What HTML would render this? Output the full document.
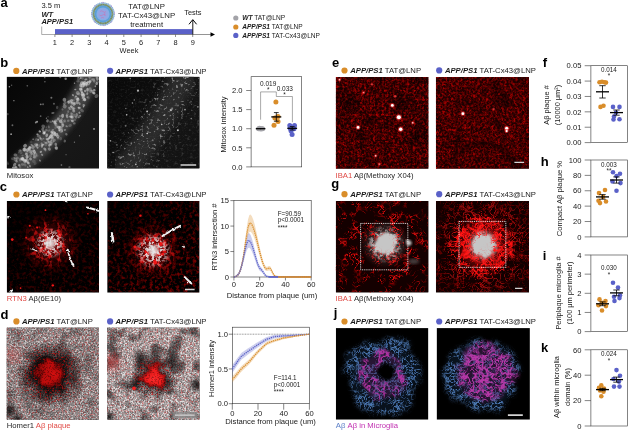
<!DOCTYPE html>
<html><head><meta charset="utf-8"><title>Figure</title>
<style>html,body{margin:0;padding:0;background:#fff;}body{width:628px;height:430px;overflow:hidden;font-family:"Liberation Sans",sans-serif;}</style>
</head><body>
<svg width="628" height="430" viewBox="0 0 628 430" font-family="'Liberation Sans',sans-serif" style="display:block">
<defs>
<filter id="blur05"><feGaussianBlur stdDeviation="0.5"/></filter>
<filter id="blur07"><feGaussianBlur stdDeviation="0.75"/></filter>
<filter id="blur1"><feGaussianBlur stdDeviation="1"/></filter>
<filter id="blur2"><feGaussianBlur stdDeviation="2"/></filter>
<filter id="blur3"><feGaussianBlur stdDeviation="3"/></filter>
<filter id="blur5"><feGaussianBlur stdDeviation="5"/></filter>
</defs>

<text x="0.5" y="7.2" font-size="13" text-anchor="start" fill="#000" font-weight="bold">a</text>
<text x="41.4" y="7.6" font-size="7.5" text-anchor="start" fill="#1a1a1a" >3.5 m</text>
<text x="41.4" y="17.1" font-size="7.5" text-anchor="start" fill="#1a1a1a" ><tspan font-weight="bold" font-style="italic">WT</tspan></text>
<text x="41.4" y="24.4" font-size="7.5" text-anchor="start" fill="#1a1a1a" ><tspan font-weight="bold" font-style="italic">APP/PS1</tspan></text>
<path d="M41.7 26.5V34.5H55" fill="none" stroke="#777" stroke-width="0.6"/>
<rect x="55" y="29.1" width="137.6" height="5.3" fill="#5A61C8"/>
<path d="M55 34.5H212" fill="none" stroke="#666" stroke-width="0.7"/>
<path d="M210.5 32.3L215 34.5L210.5 36.7Z" fill="#000"/>
<path d="M54.9 34.5V37" stroke="#444" stroke-width="0.6"/>
<text x="54.9" y="45.2" font-size="7.4" text-anchor="middle" fill="#1a1a1a" >1</text>
<path d="M72.1 34.5V37" stroke="#444" stroke-width="0.6"/>
<text x="72.1" y="45.2" font-size="7.4" text-anchor="middle" fill="#1a1a1a" >2</text>
<path d="M89.4 34.5V37" stroke="#444" stroke-width="0.6"/>
<text x="89.4" y="45.2" font-size="7.4" text-anchor="middle" fill="#1a1a1a" >3</text>
<path d="M106.6 34.5V37" stroke="#444" stroke-width="0.6"/>
<text x="106.6" y="45.2" font-size="7.4" text-anchor="middle" fill="#1a1a1a" >4</text>
<path d="M123.8 34.5V37" stroke="#444" stroke-width="0.6"/>
<text x="123.8" y="45.2" font-size="7.4" text-anchor="middle" fill="#1a1a1a" >5</text>
<path d="M141.1 34.5V37" stroke="#444" stroke-width="0.6"/>
<text x="141.1" y="45.2" font-size="7.4" text-anchor="middle" fill="#1a1a1a" >6</text>
<path d="M158.3 34.5V37" stroke="#444" stroke-width="0.6"/>
<text x="158.3" y="45.2" font-size="7.4" text-anchor="middle" fill="#1a1a1a" >7</text>
<path d="M175.5 34.5V37" stroke="#444" stroke-width="0.6"/>
<text x="175.5" y="45.2" font-size="7.4" text-anchor="middle" fill="#1a1a1a" >8</text>
<path d="M192.7 34.5V37" stroke="#444" stroke-width="0.6"/>
<text x="192.7" y="45.2" font-size="7.4" text-anchor="middle" fill="#1a1a1a" >9</text>
<text x="129" y="53.3" font-size="7.4" text-anchor="middle" fill="#1a1a1a" >Week</text>
<text x="146.6" y="8.8" font-size="7.8" text-anchor="middle" fill="#1a1a1a" >TAT@LNP</text>
<text x="146.6" y="17.8" font-size="7.8" text-anchor="middle" fill="#1a1a1a" >TAT-Cx43@LNP</text>
<text x="146.6" y="26.8" font-size="7.8" text-anchor="middle" fill="#1a1a1a" >treatment</text>
<text x="192.9" y="14.5" font-size="7.4" text-anchor="middle" fill="#1a1a1a" >Tests</text>
<path d="M192.8 34.5V20" stroke="#000" stroke-width="0.9" fill="none"/><path d="M189 24.3L192.8 19.6L196.6 24.3" stroke="#000" stroke-width="1" fill="none"/>
<g>
<circle cx="103" cy="14" r="11.6" fill="#a8c6e0" filter="url(#blur05)"/>
<circle cx="103" cy="14" r="11.2" fill="none" stroke="#7fa8d0" stroke-width="1.4" stroke-dasharray="0.9 0.9" opacity="0.9"/>
<circle cx="103" cy="14" r="9.4" fill="none" stroke="#6c8a72" stroke-width="1.7"/>
<circle cx="103" cy="14" r="9.4" fill="none" stroke="#9aa86a" stroke-width="1.7" stroke-dasharray="0.7 1.1"/>
<circle cx="103" cy="14" r="8.5" fill="#5b9fd6"/>
<circle cx="103" cy="14" r="6.6" fill="#86aee6"/>
<circle cx="103" cy="14" r="5.2" fill="#93a6e4"/>
<path d="M100 11.5q1.5 -1.5 3 0t3 0M99.5 15q1.5 1.5 3 0t3.2 0.5M101 18q1.5 -1 3 0M104.5 12.5q1 1.5 0 3" fill="none" stroke="#d36aa8" stroke-width="0.55" opacity="0.85"/>
<g fill="#b48ad8"><circle cx="91.6" cy="14" r="0.6"/><circle cx="114.4" cy="13" r="0.6"/><circle cx="103" cy="2.4" r="0.6"/><circle cx="104" cy="25.6" r="0.6"/><circle cx="95" cy="5.8" r="0.6"/><circle cx="111.3" cy="22" r="0.6"/><circle cx="94.6" cy="21.8" r="0.6"/><circle cx="111.5" cy="6" r="0.6"/></g>
</g>
<circle cx="235.8" cy="18" r="2.6" fill="#A3A3A8"/>
<text x="242.2" y="20.3" font-size="6.6" text-anchor="start" fill="#1a1a1a" ><tspan font-weight="bold" font-style="italic">WT</tspan> TAT@LNP</text>
<circle cx="235.8" cy="27" r="2.6" fill="#D98D2A"/>
<text x="242.2" y="29.3" font-size="6.6" text-anchor="start" fill="#1a1a1a" ><tspan font-weight="bold" font-style="italic">APP/PS1</tspan> TAT@LNP</text>
<circle cx="235.8" cy="35.4" r="2.6" fill="#5A61C8"/>
<text x="242.2" y="37.699999999999996" font-size="6.6" text-anchor="start" fill="#1a1a1a" ><tspan font-weight="bold" font-style="italic">APP/PS1</tspan> TAT-Cx43@LNP</text>
<text x="0.15" y="66.7" font-size="13" text-anchor="start" fill="#000" font-weight="bold">b</text>
<circle cx="16.3" cy="70.9" r="3.1" fill="#D98D2A"/>
<text x="21.9" y="73.7" font-size="7.72" text-anchor="start" fill="#1a1a1a" ><tspan font-weight="bold" font-style="italic">APP/PS1</tspan> TAT@LNP</text>
<circle cx="110.1" cy="70.8" r="3.1" fill="#5A61C8"/>
<text x="115.4" y="73.6" font-size="7.72" text-anchor="start" fill="#1a1a1a" ><tspan font-weight="bold" font-style="italic">APP/PS1</tspan> TAT-Cx43@LNP</text>
<svg x="6.7" y="76.7" width="92.3" height="91.9" viewBox="0 0 100 100" preserveAspectRatio="none" overflow="hidden"><rect width="100" height="100" fill="#000"/><defs><linearGradient id="b1g" gradientUnits="userSpaceOnUse" x1="0" y1="0" x2="110.6" y2="85.8"><stop offset="0" stop-color="#060606" stop-opacity="1"/><stop offset="0.4" stop-color="#0c0c0c" stop-opacity="1"/><stop offset="0.6" stop-color="#181818" stop-opacity="1"/><stop offset="1" stop-color="#151515" stop-opacity="1"/></linearGradient></defs><rect width="100" height="100" fill="url(#b1g)"/><path d="M92 -5.1Q72 50 12 98" stroke="#444" stroke-width="21" fill="none" filter="url(#blur3)"/><g filter="url(#blur07)"><ellipse cx="54.7" cy="33.4" rx="1.7" ry="1.3" fill="#d8d8d8" opacity="0.24" transform="rotate(106 54.7 33.4)"/><ellipse cx="56.1" cy="45.8" rx="1.9" ry="1.7" fill="#d8d8d8" opacity="0.30" transform="rotate(17 56.1 45.8)"/><ellipse cx="96.6" cy="-2.7" rx="1.2" ry="1.1" fill="#d8d8d8" opacity="0.47" transform="rotate(174 96.6 -2.7)"/><ellipse cx="42.9" cy="55.2" rx="1.3" ry="0.8" fill="#d8d8d8" opacity="0.18" transform="rotate(95 42.9 55.2)"/><ellipse cx="86.9" cy="8.6" rx="1.7" ry="1.3" fill="#d8d8d8" opacity="0.40" transform="rotate(152 86.9 8.6)"/><ellipse cx="49.4" cy="64.9" rx="1.7" ry="1.5" fill="#d8d8d8" opacity="0.29" transform="rotate(82 49.4 64.9)"/><ellipse cx="40.8" cy="71.1" rx="1.5" ry="1.0" fill="#d8d8d8" opacity="0.18" transform="rotate(52 40.8 71.1)"/><ellipse cx="26.4" cy="71.0" rx="1.6" ry="1.5" fill="#d8d8d8" opacity="0.15" transform="rotate(153 26.4 71.0)"/><ellipse cx="91.5" cy="15.9" rx="2.2" ry="1.7" fill="#d8d8d8" opacity="0.34" transform="rotate(176 91.5 15.9)"/><ellipse cx="74.3" cy="13.9" rx="1.2" ry="0.9" fill="#d8d8d8" opacity="0.52" transform="rotate(174 74.3 13.9)"/><ellipse cx="91.9" cy="-1.2" rx="1.2" ry="1.1" fill="#d8d8d8" opacity="0.42" transform="rotate(32 91.9 -1.2)"/><ellipse cx="68.8" cy="43.4" rx="1.3" ry="1.2" fill="#d8d8d8" opacity="0.47" transform="rotate(24 68.8 43.4)"/><ellipse cx="82.8" cy="20.5" rx="2.3" ry="2.1" fill="#d8d8d8" opacity="0.58" transform="rotate(55 82.8 20.5)"/><ellipse cx="77.2" cy="5.0" rx="1.9" ry="1.2" fill="#d8d8d8" opacity="0.25" transform="rotate(178 77.2 5.0)"/><ellipse cx="88.3" cy="22.7" rx="2.0" ry="1.5" fill="#d8d8d8" opacity="0.19" transform="rotate(53 88.3 22.7)"/><ellipse cx="50.0" cy="58.0" rx="1.5" ry="1.2" fill="#d8d8d8" opacity="0.39" transform="rotate(173 50.0 58.0)"/><ellipse cx="56.8" cy="58.3" rx="1.3" ry="1.2" fill="#d8d8d8" opacity="0.27" transform="rotate(147 56.8 58.3)"/><ellipse cx="84.4" cy="6.6" rx="2.0" ry="1.9" fill="#d8d8d8" opacity="0.62" transform="rotate(35 84.4 6.6)"/><ellipse cx="17.1" cy="85.8" rx="1.2" ry="0.8" fill="#d8d8d8" opacity="0.27" transform="rotate(173 17.1 85.8)"/><ellipse cx="38.0" cy="68.3" rx="1.4" ry="1.3" fill="#d8d8d8" opacity="0.29" transform="rotate(107 38.0 68.3)"/><ellipse cx="87.5" cy="6.3" rx="1.4" ry="1.1" fill="#d8d8d8" opacity="0.45" transform="rotate(153 87.5 6.3)"/><ellipse cx="78.2" cy="19.0" rx="2.2" ry="1.5" fill="#d8d8d8" opacity="0.28" transform="rotate(3 78.2 19.0)"/><ellipse cx="69.6" cy="43.7" rx="1.5" ry="1.3" fill="#d8d8d8" opacity="0.33" transform="rotate(24 69.6 43.7)"/><ellipse cx="21.8" cy="91.1" rx="2.3" ry="2.0" fill="#d8d8d8" opacity="0.44" transform="rotate(124 21.8 91.1)"/><ellipse cx="91.3" cy="2.6" rx="2.2" ry="1.9" fill="#d8d8d8" opacity="0.16" transform="rotate(173 91.3 2.6)"/><ellipse cx="48.7" cy="63.6" rx="1.7" ry="1.5" fill="#d8d8d8" opacity="0.64" transform="rotate(57 48.7 63.6)"/><ellipse cx="16.9" cy="89.1" rx="2.0" ry="1.7" fill="#d8d8d8" opacity="0.60" transform="rotate(143 16.9 89.1)"/><ellipse cx="70.0" cy="26.2" rx="2.1" ry="1.6" fill="#d8d8d8" opacity="0.57" transform="rotate(142 70.0 26.2)"/><ellipse cx="44.2" cy="48.1" rx="1.8" ry="1.4" fill="#d8d8d8" opacity="0.45" transform="rotate(105 44.2 48.1)"/><ellipse cx="32.2" cy="68.3" rx="1.8" ry="1.4" fill="#d8d8d8" opacity="0.19" transform="rotate(151 32.2 68.3)"/><ellipse cx="42.1" cy="80.2" rx="1.1" ry="1.0" fill="#d8d8d8" opacity="0.26" transform="rotate(87 42.1 80.2)"/><ellipse cx="34.7" cy="64.6" rx="2.2" ry="1.5" fill="#d8d8d8" opacity="0.30" transform="rotate(2 34.7 64.6)"/><ellipse cx="44.3" cy="68.2" rx="1.3" ry="0.9" fill="#d8d8d8" opacity="0.47" transform="rotate(163 44.3 68.2)"/><ellipse cx="70.5" cy="43.7" rx="1.9" ry="1.3" fill="#d8d8d8" opacity="0.54" transform="rotate(78 70.5 43.7)"/><ellipse cx="14.8" cy="90.1" rx="2.2" ry="1.6" fill="#d8d8d8" opacity="0.31" transform="rotate(105 14.8 90.1)"/><ellipse cx="25.7" cy="86.1" rx="2.0" ry="1.9" fill="#d8d8d8" opacity="0.23" transform="rotate(50 25.7 86.1)"/><ellipse cx="65.5" cy="41.5" rx="1.6" ry="1.4" fill="#d8d8d8" opacity="0.30" transform="rotate(89 65.5 41.5)"/><ellipse cx="30.2" cy="87.8" rx="2.3" ry="1.8" fill="#d8d8d8" opacity="0.17" transform="rotate(13 30.2 87.8)"/><ellipse cx="30.8" cy="94.6" rx="1.8" ry="1.3" fill="#d8d8d8" opacity="0.16" transform="rotate(142 30.8 94.6)"/><ellipse cx="92.8" cy="2.9" rx="1.6" ry="1.0" fill="#d8d8d8" opacity="0.27" transform="rotate(149 92.8 2.9)"/><ellipse cx="97.5" cy="7.5" rx="1.6" ry="1.4" fill="#d8d8d8" opacity="0.55" transform="rotate(118 97.5 7.5)"/><ellipse cx="14.6" cy="98.3" rx="1.9" ry="1.3" fill="#d8d8d8" opacity="0.24" transform="rotate(86 14.6 98.3)"/><ellipse cx="89.1" cy="8.2" rx="1.4" ry="1.1" fill="#d8d8d8" opacity="0.41" transform="rotate(126 89.1 8.2)"/><ellipse cx="50.9" cy="61.2" rx="2.1" ry="2.0" fill="#d8d8d8" opacity="0.61" transform="rotate(16 50.9 61.2)"/><ellipse cx="34.2" cy="68.7" rx="1.3" ry="1.0" fill="#d8d8d8" opacity="0.60" transform="rotate(113 34.2 68.7)"/><ellipse cx="62.5" cy="25.1" rx="2.1" ry="2.0" fill="#d8d8d8" opacity="0.47" transform="rotate(83 62.5 25.1)"/><ellipse cx="81.2" cy="7.0" rx="2.0" ry="1.8" fill="#d8d8d8" opacity="0.50" transform="rotate(115 81.2 7.0)"/><ellipse cx="97.3" cy="21.1" rx="2.3" ry="1.9" fill="#d8d8d8" opacity="0.31" transform="rotate(142 97.3 21.1)"/><ellipse cx="9.5" cy="85.2" rx="2.1" ry="1.6" fill="#d8d8d8" opacity="0.37" transform="rotate(15 9.5 85.2)"/><ellipse cx="57.6" cy="54.3" rx="1.1" ry="1.0" fill="#d8d8d8" opacity="0.54" transform="rotate(12 57.6 54.3)"/><ellipse cx="82.0" cy="1.5" rx="1.5" ry="1.4" fill="#d8d8d8" opacity="0.22" transform="rotate(25 82.0 1.5)"/><ellipse cx="58.4" cy="48.5" rx="1.9" ry="1.9" fill="#d8d8d8" opacity="0.62" transform="rotate(89 58.4 48.5)"/><ellipse cx="80.3" cy="9.4" rx="2.0" ry="1.7" fill="#d8d8d8" opacity="0.56" transform="rotate(94 80.3 9.4)"/><ellipse cx="55.2" cy="54.3" rx="1.5" ry="1.1" fill="#d8d8d8" opacity="0.59" transform="rotate(152 55.2 54.3)"/><ellipse cx="93.9" cy="17.5" rx="1.7" ry="1.4" fill="#d8d8d8" opacity="0.41" transform="rotate(36 93.9 17.5)"/><ellipse cx="50.0" cy="39.4" rx="1.8" ry="1.1" fill="#d8d8d8" opacity="0.40" transform="rotate(174 50.0 39.4)"/><ellipse cx="72.6" cy="37.5" rx="1.7" ry="1.5" fill="#d8d8d8" opacity="0.41" transform="rotate(12 72.6 37.5)"/><ellipse cx="62.8" cy="32.4" rx="2.2" ry="2.2" fill="#d8d8d8" opacity="0.38" transform="rotate(48 62.8 32.4)"/><ellipse cx="23.4" cy="94.2" rx="1.7" ry="1.2" fill="#d8d8d8" opacity="0.45" transform="rotate(34 23.4 94.2)"/><ellipse cx="22.8" cy="98.4" rx="1.1" ry="0.8" fill="#d8d8d8" opacity="0.49" transform="rotate(41 22.8 98.4)"/><ellipse cx="83.6" cy="31.1" rx="1.5" ry="1.3" fill="#d8d8d8" opacity="0.51" transform="rotate(19 83.6 31.1)"/><ellipse cx="86.1" cy="9.4" rx="1.7" ry="1.3" fill="#d8d8d8" opacity="0.35" transform="rotate(68 86.1 9.4)"/><ellipse cx="60.8" cy="52.8" rx="1.9" ry="1.6" fill="#d8d8d8" opacity="0.57" transform="rotate(95 60.8 52.8)"/><ellipse cx="54.0" cy="63.1" rx="2.1" ry="1.5" fill="#d8d8d8" opacity="0.55" transform="rotate(133 54.0 63.1)"/><ellipse cx="17.3" cy="89.8" rx="2.2" ry="1.5" fill="#d8d8d8" opacity="0.58" transform="rotate(180 17.3 89.8)"/><ellipse cx="95.0" cy="4.2" rx="1.4" ry="1.2" fill="#d8d8d8" opacity="0.20" transform="rotate(47 95.0 4.2)"/><ellipse cx="19.1" cy="77.9" rx="1.3" ry="1.0" fill="#d8d8d8" opacity="0.16" transform="rotate(123 19.1 77.9)"/><ellipse cx="90.6" cy="13.5" rx="1.9" ry="1.9" fill="#d8d8d8" opacity="0.21" transform="rotate(174 90.6 13.5)"/><ellipse cx="61.4" cy="48.7" rx="1.9" ry="1.3" fill="#d8d8d8" opacity="0.20" transform="rotate(13 61.4 48.7)"/><ellipse cx="49.9" cy="48.5" rx="1.3" ry="0.9" fill="#d8d8d8" opacity="0.56" transform="rotate(37 49.9 48.5)"/><ellipse cx="7.8" cy="99.1" rx="2.2" ry="1.4" fill="#d8d8d8" opacity="0.62" transform="rotate(11 7.8 99.1)"/><ellipse cx="65.5" cy="43.6" rx="1.7" ry="1.3" fill="#d8d8d8" opacity="0.44" transform="rotate(77 65.5 43.6)"/><ellipse cx="43.7" cy="72.0" rx="1.6" ry="1.5" fill="#d8d8d8" opacity="0.25" transform="rotate(73 43.7 72.0)"/><ellipse cx="85.8" cy="3.0" rx="1.7" ry="1.0" fill="#d8d8d8" opacity="0.54" transform="rotate(161 85.8 3.0)"/><ellipse cx="46.2" cy="74.7" rx="1.6" ry="1.3" fill="#d8d8d8" opacity="0.63" transform="rotate(91 46.2 74.7)"/><ellipse cx="24.7" cy="77.0" rx="1.4" ry="1.4" fill="#d8d8d8" opacity="0.53" transform="rotate(134 24.7 77.0)"/><ellipse cx="19.9" cy="75.2" rx="2.2" ry="1.9" fill="#d8d8d8" opacity="0.52" transform="rotate(138 19.9 75.2)"/><ellipse cx="76.3" cy="41.3" rx="2.0" ry="1.2" fill="#d8d8d8" opacity="0.38" transform="rotate(62 76.3 41.3)"/><ellipse cx="55.7" cy="66.8" rx="1.4" ry="1.3" fill="#d8d8d8" opacity="0.32" transform="rotate(120 55.7 66.8)"/><ellipse cx="40.1" cy="61.5" rx="1.6" ry="1.6" fill="#d8d8d8" opacity="0.49" transform="rotate(116 40.1 61.5)"/><ellipse cx="32.5" cy="74.9" rx="2.3" ry="1.4" fill="#d8d8d8" opacity="0.51" transform="rotate(111 32.5 74.9)"/><ellipse cx="80.6" cy="16.3" rx="1.3" ry="1.0" fill="#d8d8d8" opacity="0.27" transform="rotate(18 80.6 16.3)"/><ellipse cx="19.8" cy="92.4" rx="1.8" ry="1.4" fill="#d8d8d8" opacity="0.43" transform="rotate(174 19.8 92.4)"/><ellipse cx="1.6" cy="95.2" rx="1.2" ry="1.0" fill="#d8d8d8" opacity="0.17" transform="rotate(137 1.6 95.2)"/><ellipse cx="8.4" cy="88.2" rx="1.3" ry="1.0" fill="#d8d8d8" opacity="0.39" transform="rotate(30 8.4 88.2)"/><ellipse cx="63.0" cy="70.0" rx="1.6" ry="1.3" fill="#d8d8d8" opacity="0.33" transform="rotate(108 63.0 70.0)"/><ellipse cx="84.4" cy="24.8" rx="1.9" ry="1.6" fill="#d8d8d8" opacity="0.50" transform="rotate(51 84.4 24.8)"/><ellipse cx="83.0" cy="25.6" rx="1.2" ry="0.8" fill="#d8d8d8" opacity="0.34" transform="rotate(136 83.0 25.6)"/><ellipse cx="20.1" cy="91.1" rx="2.0" ry="1.2" fill="#d8d8d8" opacity="0.61" transform="rotate(178 20.1 91.1)"/><ellipse cx="60.5" cy="42.7" rx="2.3" ry="1.6" fill="#d8d8d8" opacity="0.61" transform="rotate(94 60.5 42.7)"/><ellipse cx="32.0" cy="85.0" rx="1.8" ry="1.2" fill="#d8d8d8" opacity="0.37" transform="rotate(112 32.0 85.0)"/><ellipse cx="92.1" cy="15.2" rx="1.2" ry="1.0" fill="#d8d8d8" opacity="0.37" transform="rotate(120 92.1 15.2)"/><ellipse cx="83.7" cy="19.8" rx="1.8" ry="1.4" fill="#d8d8d8" opacity="0.41" transform="rotate(140 83.7 19.8)"/><ellipse cx="80.8" cy="13.1" rx="1.2" ry="1.2" fill="#d8d8d8" opacity="0.46" transform="rotate(141 80.8 13.1)"/><ellipse cx="72.8" cy="29.8" rx="1.8" ry="1.5" fill="#d8d8d8" opacity="0.52" transform="rotate(114 72.8 29.8)"/><ellipse cx="94.9" cy="14.8" rx="1.4" ry="1.4" fill="#d8d8d8" opacity="0.58" transform="rotate(165 94.9 14.8)"/><ellipse cx="69.9" cy="40.0" rx="1.8" ry="1.2" fill="#d8d8d8" opacity="0.19" transform="rotate(97 69.9 40.0)"/><ellipse cx="43.0" cy="58.2" rx="1.5" ry="1.2" fill="#d8d8d8" opacity="0.32" transform="rotate(38 43.0 58.2)"/><ellipse cx="38.2" cy="76.1" rx="1.2" ry="1.1" fill="#d8d8d8" opacity="0.53" transform="rotate(112 38.2 76.1)"/><ellipse cx="83.4" cy="10.3" rx="1.6" ry="1.1" fill="#d8d8d8" opacity="0.33" transform="rotate(146 83.4 10.3)"/><ellipse cx="51.4" cy="69.1" rx="1.8" ry="1.6" fill="#d8d8d8" opacity="0.36" transform="rotate(166 51.4 69.1)"/><ellipse cx="72.7" cy="31.6" rx="1.2" ry="1.2" fill="#d8d8d8" opacity="0.19" transform="rotate(14 72.7 31.6)"/><ellipse cx="47.5" cy="49.1" rx="1.5" ry="1.3" fill="#d8d8d8" opacity="0.25" transform="rotate(14 47.5 49.1)"/><ellipse cx="46.6" cy="66.9" rx="1.2" ry="0.9" fill="#d8d8d8" opacity="0.49" transform="rotate(130 46.6 66.9)"/><ellipse cx="83.1" cy="23.3" rx="2.0" ry="1.5" fill="#d8d8d8" opacity="0.50" transform="rotate(21 83.1 23.3)"/><ellipse cx="59.0" cy="58.9" rx="2.2" ry="2.1" fill="#d8d8d8" opacity="0.36" transform="rotate(164 59.0 58.9)"/><ellipse cx="29.1" cy="80.1" rx="1.6" ry="1.5" fill="#d8d8d8" opacity="0.27" transform="rotate(161 29.1 80.1)"/><ellipse cx="78.1" cy="34.3" rx="1.5" ry="1.1" fill="#d8d8d8" opacity="0.34" transform="rotate(71 78.1 34.3)"/><ellipse cx="77.8" cy="2.4" rx="1.7" ry="1.6" fill="#d8d8d8" opacity="0.24" transform="rotate(101 77.8 2.4)"/><ellipse cx="31.8" cy="73.9" rx="2.2" ry="1.5" fill="#d8d8d8" opacity="0.40" transform="rotate(4 31.8 73.9)"/><ellipse cx="41.2" cy="60.7" rx="2.1" ry="1.3" fill="#d8d8d8" opacity="0.54" transform="rotate(98 41.2 60.7)"/><ellipse cx="101.6" cy="-0.1" rx="2.2" ry="1.4" fill="#d8d8d8" opacity="0.22" transform="rotate(114 101.6 -0.1)"/><ellipse cx="41.3" cy="78.7" rx="1.9" ry="1.3" fill="#d8d8d8" opacity="0.53" transform="rotate(40 41.3 78.7)"/><ellipse cx="60.1" cy="50.7" rx="1.5" ry="1.5" fill="#d8d8d8" opacity="0.39" transform="rotate(121 60.1 50.7)"/><ellipse cx="52.8" cy="48.1" rx="2.0" ry="1.7" fill="#d8d8d8" opacity="0.35" transform="rotate(165 52.8 48.1)"/><ellipse cx="22.8" cy="79.6" rx="2.1" ry="1.9" fill="#d8d8d8" opacity="0.62" transform="rotate(160 22.8 79.6)"/><ellipse cx="39.0" cy="56.9" rx="1.7" ry="1.5" fill="#d8d8d8" opacity="0.36" transform="rotate(144 39.0 56.9)"/><ellipse cx="74.0" cy="42.4" rx="2.3" ry="1.7" fill="#d8d8d8" opacity="0.25" transform="rotate(30 74.0 42.4)"/><ellipse cx="75.3" cy="44.2" rx="1.5" ry="1.4" fill="#d8d8d8" opacity="0.30" transform="rotate(11 75.3 44.2)"/><ellipse cx="80.2" cy="1.4" rx="1.2" ry="0.9" fill="#d8d8d8" opacity="0.60" transform="rotate(105 80.2 1.4)"/><ellipse cx="87.1" cy="13.9" rx="1.4" ry="1.2" fill="#d8d8d8" opacity="0.26" transform="rotate(107 87.1 13.9)"/><ellipse cx="86.6" cy="7.4" rx="2.0" ry="1.5" fill="#d8d8d8" opacity="0.55" transform="rotate(99 86.6 7.4)"/><ellipse cx="66.7" cy="47.9" rx="1.4" ry="1.3" fill="#d8d8d8" opacity="0.32" transform="rotate(165 66.7 47.9)"/><ellipse cx="63.1" cy="57.9" rx="1.4" ry="0.8" fill="#d8d8d8" opacity="0.54" transform="rotate(171 63.1 57.9)"/><ellipse cx="70.1" cy="32.6" rx="1.7" ry="1.4" fill="#d8d8d8" opacity="0.64" transform="rotate(49 70.1 32.6)"/><ellipse cx="46.4" cy="65.9" rx="1.7" ry="1.2" fill="#d8d8d8" opacity="0.50" transform="rotate(143 46.4 65.9)"/><ellipse cx="52.3" cy="60.7" rx="1.3" ry="0.9" fill="#d8d8d8" opacity="0.28" transform="rotate(58 52.3 60.7)"/><ellipse cx="15.5" cy="82.1" rx="2.3" ry="1.6" fill="#d8d8d8" opacity="0.22" transform="rotate(96 15.5 82.1)"/><ellipse cx="33.5" cy="77.3" rx="1.1" ry="1.0" fill="#d8d8d8" opacity="0.55" transform="rotate(152 33.5 77.3)"/><ellipse cx="101.6" cy="2.4" rx="1.7" ry="1.3" fill="#d8d8d8" opacity="0.44" transform="rotate(172 101.6 2.4)"/><ellipse cx="21.4" cy="84.4" rx="1.6" ry="1.5" fill="#d8d8d8" opacity="0.55" transform="rotate(16 21.4 84.4)"/><ellipse cx="94.5" cy="17.9" rx="1.8" ry="1.4" fill="#d8d8d8" opacity="0.56" transform="rotate(28 94.5 17.9)"/><ellipse cx="77.0" cy="23.9" rx="1.5" ry="1.2" fill="#d8d8d8" opacity="0.33" transform="rotate(129 77.0 23.9)"/><ellipse cx="45.2" cy="70.6" rx="1.2" ry="0.9" fill="#d8d8d8" opacity="0.62" transform="rotate(83 45.2 70.6)"/><ellipse cx="27.2" cy="83.7" rx="1.6" ry="1.4" fill="#d8d8d8" opacity="0.43" transform="rotate(43 27.2 83.7)"/><ellipse cx="64.7" cy="42.3" rx="1.1" ry="1.1" fill="#d8d8d8" opacity="0.25" transform="rotate(144 64.7 42.3)"/><ellipse cx="49.2" cy="60.2" rx="1.7" ry="1.3" fill="#d8d8d8" opacity="0.34" transform="rotate(61 49.2 60.2)"/><ellipse cx="50.4" cy="70.7" rx="1.4" ry="1.0" fill="#d8d8d8" opacity="0.31" transform="rotate(132 50.4 70.7)"/><ellipse cx="6.1" cy="89.3" rx="1.5" ry="1.4" fill="#d8d8d8" opacity="0.22" transform="rotate(17 6.1 89.3)"/><ellipse cx="43.3" cy="67.4" rx="1.6" ry="1.5" fill="#d8d8d8" opacity="0.19" transform="rotate(107 43.3 67.4)"/><ellipse cx="81.0" cy="10.9" rx="1.3" ry="0.8" fill="#d8d8d8" opacity="0.19" transform="rotate(73 81.0 10.9)"/><ellipse cx="11.3" cy="88.6" rx="1.9" ry="1.7" fill="#d8d8d8" opacity="0.34" transform="rotate(148 11.3 88.6)"/><ellipse cx="79.0" cy="29.3" rx="1.6" ry="1.0" fill="#d8d8d8" opacity="0.49" transform="rotate(72 79.0 29.3)"/><ellipse cx="11.4" cy="100.4" rx="1.8" ry="1.1" fill="#d8d8d8" opacity="0.32" transform="rotate(60 11.4 100.4)"/><ellipse cx="39.4" cy="59.2" rx="1.2" ry="0.9" fill="#d8d8d8" opacity="0.54" transform="rotate(92 39.4 59.2)"/><ellipse cx="25.8" cy="81.7" rx="2.0" ry="1.9" fill="#d8d8d8" opacity="0.32" transform="rotate(99 25.8 81.7)"/><ellipse cx="59.6" cy="46.3" rx="1.3" ry="1.1" fill="#d8d8d8" opacity="0.40" transform="rotate(178 59.6 46.3)"/><ellipse cx="42.1" cy="73.5" rx="2.2" ry="1.9" fill="#d8d8d8" opacity="0.19" transform="rotate(36 42.1 73.5)"/><ellipse cx="79.9" cy="13.5" rx="1.8" ry="1.6" fill="#d8d8d8" opacity="0.61" transform="rotate(59 79.9 13.5)"/><ellipse cx="71.1" cy="28.8" rx="2.3" ry="1.5" fill="#d8d8d8" opacity="0.42" transform="rotate(163 71.1 28.8)"/><ellipse cx="56.5" cy="55.4" rx="1.8" ry="1.3" fill="#d8d8d8" opacity="0.64" transform="rotate(164 56.5 55.4)"/><ellipse cx="26.8" cy="81.1" rx="2.1" ry="1.5" fill="#d8d8d8" opacity="0.27" transform="rotate(161 26.8 81.1)"/><ellipse cx="53.0" cy="55.1" rx="2.1" ry="1.4" fill="#d8d8d8" opacity="0.19" transform="rotate(99 53.0 55.1)"/><ellipse cx="43.4" cy="63.7" rx="2.0" ry="1.5" fill="#d8d8d8" opacity="0.54" transform="rotate(107 43.4 63.7)"/><ellipse cx="83.3" cy="7.6" rx="1.6" ry="1.3" fill="#d8d8d8" opacity="0.40" transform="rotate(31 83.3 7.6)"/><ellipse cx="82.1" cy="18.8" rx="1.8" ry="1.3" fill="#d8d8d8" opacity="0.17" transform="rotate(116 82.1 18.8)"/><ellipse cx="53.2" cy="73.7" rx="1.8" ry="1.4" fill="#d8d8d8" opacity="0.46" transform="rotate(74 53.2 73.7)"/><ellipse cx="53.7" cy="77.6" rx="2.0" ry="1.8" fill="#d8d8d8" opacity="0.64" transform="rotate(87 53.7 77.6)"/><ellipse cx="30.0" cy="87.5" rx="1.6" ry="1.3" fill="#d8d8d8" opacity="0.41" transform="rotate(163 30.0 87.5)"/><ellipse cx="55.0" cy="47.4" rx="1.6" ry="1.6" fill="#d8d8d8" opacity="0.18" transform="rotate(58 55.0 47.4)"/><ellipse cx="46.2" cy="78.7" rx="1.8" ry="1.6" fill="#d8d8d8" opacity="0.44" transform="rotate(55 46.2 78.7)"/><ellipse cx="72.8" cy="36.9" rx="1.2" ry="1.0" fill="#d8d8d8" opacity="0.27" transform="rotate(95 72.8 36.9)"/><ellipse cx="75.1" cy="21.5" rx="1.2" ry="1.1" fill="#d8d8d8" opacity="0.48" transform="rotate(174 75.1 21.5)"/><ellipse cx="25.8" cy="89.6" rx="1.6" ry="1.5" fill="#d8d8d8" opacity="0.52" transform="rotate(40 25.8 89.6)"/><ellipse cx="57.3" cy="57.2" rx="2.1" ry="1.3" fill="#d8d8d8" opacity="0.62" transform="rotate(97 57.3 57.2)"/><ellipse cx="81.5" cy="14.6" rx="1.2" ry="1.1" fill="#d8d8d8" opacity="0.34" transform="rotate(147 81.5 14.6)"/><ellipse cx="78.6" cy="33.8" rx="1.8" ry="1.1" fill="#d8d8d8" opacity="0.59" transform="rotate(6 78.6 33.8)"/><ellipse cx="10.2" cy="98.5" rx="1.7" ry="1.1" fill="#d8d8d8" opacity="0.60" transform="rotate(53 10.2 98.5)"/><ellipse cx="23.3" cy="93.4" rx="1.5" ry="1.2" fill="#d8d8d8" opacity="0.58" transform="rotate(31 23.3 93.4)"/><ellipse cx="83.7" cy="8.4" rx="2.2" ry="1.3" fill="#d8d8d8" opacity="0.51" transform="rotate(19 83.7 8.4)"/><ellipse cx="75.1" cy="22.7" rx="2.2" ry="2.1" fill="#d8d8d8" opacity="0.22" transform="rotate(128 75.1 22.7)"/><ellipse cx="47.7" cy="74.2" rx="1.2" ry="0.8" fill="#d8d8d8" opacity="0.50" transform="rotate(55 47.7 74.2)"/><ellipse cx="84.2" cy="7.7" rx="1.3" ry="0.9" fill="#d8d8d8" opacity="0.54" transform="rotate(120 84.2 7.7)"/><ellipse cx="67.0" cy="27.8" rx="1.8" ry="1.3" fill="#d8d8d8" opacity="0.60" transform="rotate(54 67.0 27.8)"/><ellipse cx="35.9" cy="59.6" rx="1.4" ry="1.2" fill="#d8d8d8" opacity="0.63" transform="rotate(16 35.9 59.6)"/><ellipse cx="60.5" cy="35.6" rx="1.2" ry="1.0" fill="#d8d8d8" opacity="0.27" transform="rotate(51 60.5 35.6)"/><ellipse cx="29.5" cy="80.4" rx="1.2" ry="0.9" fill="#d8d8d8" opacity="0.27" transform="rotate(136 29.5 80.4)"/><ellipse cx="77.0" cy="17.8" rx="2.2" ry="2.2" fill="#d8d8d8" opacity="0.38" transform="rotate(6 77.0 17.8)"/><ellipse cx="35.4" cy="75.1" rx="1.6" ry="1.5" fill="#d8d8d8" opacity="0.24" transform="rotate(90 35.4 75.1)"/><ellipse cx="53.3" cy="52.0" rx="1.9" ry="1.7" fill="#d8d8d8" opacity="0.40" transform="rotate(93 53.3 52.0)"/><ellipse cx="21.9" cy="82.5" rx="1.9" ry="1.6" fill="#d8d8d8" opacity="0.24" transform="rotate(171 21.9 82.5)"/><ellipse cx="37.0" cy="81.8" rx="1.4" ry="1.1" fill="#d8d8d8" opacity="0.54" transform="rotate(139 37.0 81.8)"/><ellipse cx="38.3" cy="85.0" rx="1.4" ry="1.1" fill="#d8d8d8" opacity="0.43" transform="rotate(40 38.3 85.0)"/><ellipse cx="68.7" cy="53.1" rx="2.0" ry="1.6" fill="#d8d8d8" opacity="0.24" transform="rotate(157 68.7 53.1)"/><ellipse cx="91.1" cy="4.6" rx="1.1" ry="0.9" fill="#d8d8d8" opacity="0.37" transform="rotate(78 91.1 4.6)"/><ellipse cx="82.1" cy="18.7" rx="2.2" ry="1.8" fill="#d8d8d8" opacity="0.54" transform="rotate(98 82.1 18.7)"/><ellipse cx="81.4" cy="13.4" rx="1.3" ry="0.9" fill="#d8d8d8" opacity="0.30" transform="rotate(8 81.4 13.4)"/><ellipse cx="45.9" cy="58.6" rx="1.8" ry="1.1" fill="#d8d8d8" opacity="0.23" transform="rotate(148 45.9 58.6)"/><ellipse cx="81.5" cy="16.7" rx="1.3" ry="1.1" fill="#d8d8d8" opacity="0.54" transform="rotate(150 81.5 16.7)"/><ellipse cx="87.7" cy="14.2" rx="2.3" ry="1.4" fill="#d8d8d8" opacity="0.52" transform="rotate(88 87.7 14.2)"/><ellipse cx="12.6" cy="102.1" rx="2.0" ry="1.2" fill="#d8d8d8" opacity="0.59" transform="rotate(43 12.6 102.1)"/><ellipse cx="94.9" cy="5.6" rx="1.6" ry="1.1" fill="#d8d8d8" opacity="0.19" transform="rotate(76 94.9 5.6)"/><ellipse cx="38.0" cy="73.9" rx="1.4" ry="1.0" fill="#d8d8d8" opacity="0.27" transform="rotate(99 38.0 73.9)"/><ellipse cx="69.7" cy="46.8" rx="1.5" ry="1.5" fill="#d8d8d8" opacity="0.17" transform="rotate(110 69.7 46.8)"/><ellipse cx="68.1" cy="34.5" rx="1.9" ry="1.2" fill="#d8d8d8" opacity="0.49" transform="rotate(62 68.1 34.5)"/><ellipse cx="14.3" cy="80.3" rx="1.7" ry="1.3" fill="#d8d8d8" opacity="0.34" transform="rotate(152 14.3 80.3)"/><ellipse cx="27.1" cy="74.4" rx="1.4" ry="1.0" fill="#d8d8d8" opacity="0.42" transform="rotate(33 27.1 74.4)"/><ellipse cx="89.8" cy="5.9" rx="1.7" ry="1.2" fill="#d8d8d8" opacity="0.64" transform="rotate(80 89.8 5.9)"/><ellipse cx="47.6" cy="71.0" rx="2.1" ry="1.5" fill="#d8d8d8" opacity="0.19" transform="rotate(69 47.6 71.0)"/><ellipse cx="40.0" cy="67.4" rx="1.1" ry="0.8" fill="#d8d8d8" opacity="0.34" transform="rotate(47 40.0 67.4)"/><ellipse cx="19.9" cy="95.8" rx="2.0" ry="1.4" fill="#d8d8d8" opacity="0.23" transform="rotate(65 19.9 95.8)"/><ellipse cx="9.3" cy="90.1" rx="2.0" ry="1.9" fill="#d8d8d8" opacity="0.31" transform="rotate(4 9.3 90.1)"/><ellipse cx="78.8" cy="39.2" rx="1.2" ry="1.1" fill="#d8d8d8" opacity="0.53" transform="rotate(59 78.8 39.2)"/><ellipse cx="64.9" cy="54.0" rx="1.4" ry="0.9" fill="#d8d8d8" opacity="0.44" transform="rotate(27 64.9 54.0)"/><ellipse cx="71.8" cy="20.0" rx="1.3" ry="1.1" fill="#d8d8d8" opacity="0.51" transform="rotate(47 71.8 20.0)"/><ellipse cx="48.5" cy="69.2" rx="1.3" ry="0.9" fill="#d8d8d8" opacity="0.50" transform="rotate(50 48.5 69.2)"/><ellipse cx="61.9" cy="30.1" rx="1.4" ry="1.0" fill="#d8d8d8" opacity="0.26" transform="rotate(62 61.9 30.1)"/><ellipse cx="25.0" cy="78.0" rx="2.3" ry="1.6" fill="#d8d8d8" opacity="0.60" transform="rotate(121 25.0 78.0)"/><ellipse cx="82.1" cy="9.8" rx="2.2" ry="2.1" fill="#d8d8d8" opacity="0.46" transform="rotate(42 82.1 9.8)"/><ellipse cx="66.6" cy="38.0" rx="1.6" ry="1.1" fill="#d8d8d8" opacity="0.29" transform="rotate(89 66.6 38.0)"/><ellipse cx="90.3" cy="5.2" rx="1.6" ry="1.3" fill="#d8d8d8" opacity="0.48" transform="rotate(30 90.3 5.2)"/><ellipse cx="87.3" cy="18.4" rx="1.6" ry="1.1" fill="#d8d8d8" opacity="0.49" transform="rotate(105 87.3 18.4)"/><ellipse cx="59.3" cy="56.1" rx="1.9" ry="1.2" fill="#d8d8d8" opacity="0.33" transform="rotate(70 59.3 56.1)"/><ellipse cx="63.0" cy="48.1" rx="1.8" ry="1.4" fill="#d8d8d8" opacity="0.27" transform="rotate(59 63.0 48.1)"/><ellipse cx="64.6" cy="62.6" rx="1.4" ry="1.2" fill="#d8d8d8" opacity="0.38" transform="rotate(33 64.6 62.6)"/><ellipse cx="55.4" cy="64.9" rx="1.8" ry="1.8" fill="#d8d8d8" opacity="0.46" transform="rotate(139 55.4 64.9)"/><ellipse cx="48.6" cy="60.6" rx="1.6" ry="1.2" fill="#d8d8d8" opacity="0.56" transform="rotate(50 48.6 60.6)"/><ellipse cx="13.2" cy="82.4" rx="1.1" ry="0.7" fill="#d8d8d8" opacity="0.30" transform="rotate(91 13.2 82.4)"/><ellipse cx="81.7" cy="36.9" rx="2.3" ry="1.5" fill="#d8d8d8" opacity="0.26" transform="rotate(35 81.7 36.9)"/><ellipse cx="44.0" cy="68.3" rx="1.8" ry="1.3" fill="#d8d8d8" opacity="0.39" transform="rotate(43 44.0 68.3)"/><ellipse cx="47.3" cy="65.2" rx="1.8" ry="1.5" fill="#d8d8d8" opacity="0.56" transform="rotate(101 47.3 65.2)"/><ellipse cx="8.6" cy="95.7" rx="2.2" ry="1.6" fill="#d8d8d8" opacity="0.49" transform="rotate(129 8.6 95.7)"/><ellipse cx="47.6" cy="72.3" rx="2.3" ry="2.1" fill="#d8d8d8" opacity="0.45" transform="rotate(29 47.6 72.3)"/><ellipse cx="57.8" cy="43.0" rx="1.4" ry="1.3" fill="#d8d8d8" opacity="0.27" transform="rotate(96 57.8 43.0)"/><ellipse cx="80.6" cy="14.9" rx="1.5" ry="1.0" fill="#d8d8d8" opacity="0.21" transform="rotate(92 80.6 14.9)"/><ellipse cx="42.4" cy="71.8" rx="1.2" ry="1.0" fill="#d8d8d8" opacity="0.39" transform="rotate(139 42.4 71.8)"/><ellipse cx="96.0" cy="10.4" rx="1.2" ry="0.8" fill="#d8d8d8" opacity="0.54" transform="rotate(91 96.0 10.4)"/><ellipse cx="63.1" cy="28.5" rx="2.0" ry="1.4" fill="#d8d8d8" opacity="0.31" transform="rotate(129 63.1 28.5)"/><ellipse cx="76.6" cy="27.9" rx="2.1" ry="1.7" fill="#d8d8d8" opacity="0.50" transform="rotate(76 76.6 27.9)"/><ellipse cx="39.6" cy="54.0" rx="2.1" ry="1.9" fill="#d8d8d8" opacity="0.33" transform="rotate(23 39.6 54.0)"/><ellipse cx="45.5" cy="67.4" rx="1.1" ry="0.9" fill="#d8d8d8" opacity="0.63" transform="rotate(169 45.5 67.4)"/><ellipse cx="94.2" cy="3.5" rx="1.9" ry="1.5" fill="#d8d8d8" opacity="0.34" transform="rotate(114 94.2 3.5)"/><ellipse cx="17.1" cy="95.6" rx="2.0" ry="1.3" fill="#d8d8d8" opacity="0.29" transform="rotate(8 17.1 95.6)"/><ellipse cx="38.4" cy="73.7" rx="2.3" ry="1.5" fill="#d8d8d8" opacity="0.16" transform="rotate(59 38.4 73.7)"/><ellipse cx="52.5" cy="48.8" rx="1.5" ry="1.4" fill="#d8d8d8" opacity="0.29" transform="rotate(151 52.5 48.8)"/><ellipse cx="71.7" cy="35.1" rx="1.8" ry="1.7" fill="#d8d8d8" opacity="0.34" transform="rotate(177 71.7 35.1)"/><ellipse cx="33.3" cy="62.7" rx="1.3" ry="0.9" fill="#d8d8d8" opacity="0.61" transform="rotate(19 33.3 62.7)"/><ellipse cx="79.7" cy="14.6" rx="1.7" ry="1.1" fill="#d8d8d8" opacity="0.16" transform="rotate(58 79.7 14.6)"/><ellipse cx="60.0" cy="59.1" rx="1.4" ry="1.0" fill="#d8d8d8" opacity="0.33" transform="rotate(87 60.0 59.1)"/><ellipse cx="87.6" cy="22.4" rx="1.2" ry="0.7" fill="#d8d8d8" opacity="0.30" transform="rotate(161 87.6 22.4)"/><ellipse cx="90.1" cy="13.4" rx="1.6" ry="1.5" fill="#d8d8d8" opacity="0.18" transform="rotate(71 90.1 13.4)"/><ellipse cx="52.3" cy="50.2" rx="1.9" ry="1.6" fill="#d8d8d8" opacity="0.61" transform="rotate(50 52.3 50.2)"/><ellipse cx="29.4" cy="92.0" rx="2.1" ry="1.9" fill="#d8d8d8" opacity="0.16" transform="rotate(32 29.4 92.0)"/><ellipse cx="88.2" cy="5.5" rx="1.2" ry="0.8" fill="#d8d8d8" opacity="0.52" transform="rotate(65 88.2 5.5)"/><ellipse cx="77.1" cy="23.8" rx="1.4" ry="1.3" fill="#d8d8d8" opacity="0.41" transform="rotate(2 77.1 23.8)"/><ellipse cx="29.8" cy="82.0" rx="2.1" ry="1.8" fill="#d8d8d8" opacity="0.54" transform="rotate(72 29.8 82.0)"/><ellipse cx="29.6" cy="85.2" rx="1.2" ry="1.2" fill="#d8d8d8" opacity="0.50" transform="rotate(72 29.6 85.2)"/><ellipse cx="25.2" cy="97.3" rx="1.4" ry="1.0" fill="#d8d8d8" opacity="0.47" transform="rotate(66 25.2 97.3)"/><ellipse cx="30.8" cy="82.9" rx="1.5" ry="1.3" fill="#d8d8d8" opacity="0.29" transform="rotate(64 30.8 82.9)"/><ellipse cx="17.8" cy="90.7" rx="1.5" ry="1.3" fill="#d8d8d8" opacity="0.51" transform="rotate(38 17.8 90.7)"/><ellipse cx="59.4" cy="54.9" rx="1.9" ry="1.3" fill="#d8d8d8" opacity="0.22" transform="rotate(19 59.4 54.9)"/><ellipse cx="74.0" cy="29.0" rx="1.7" ry="1.3" fill="#d8d8d8" opacity="0.41" transform="rotate(58 74.0 29.0)"/><ellipse cx="13.5" cy="96.3" rx="1.3" ry="1.3" fill="#d8d8d8" opacity="0.52" transform="rotate(58 13.5 96.3)"/><ellipse cx="98.1" cy="1.8" rx="2.3" ry="1.6" fill="#d8d8d8" opacity="0.50" transform="rotate(73 98.1 1.8)"/><ellipse cx="87.3" cy="6.6" rx="1.4" ry="1.2" fill="#d8d8d8" opacity="0.31" transform="rotate(171 87.3 6.6)"/><ellipse cx="77.3" cy="-0.1" rx="1.3" ry="1.1" fill="#d8d8d8" opacity="0.47" transform="rotate(68 77.3 -0.1)"/><ellipse cx="58.5" cy="67.4" rx="1.9" ry="1.5" fill="#d8d8d8" opacity="0.21" transform="rotate(102 58.5 67.4)"/><ellipse cx="19.9" cy="79.5" rx="1.9" ry="1.5" fill="#d8d8d8" opacity="0.36" transform="rotate(120 19.9 79.5)"/><ellipse cx="72.7" cy="34.5" rx="1.8" ry="1.4" fill="#d8d8d8" opacity="0.46" transform="rotate(6 72.7 34.5)"/><ellipse cx="73.6" cy="47.0" rx="1.8" ry="1.5" fill="#d8d8d8" opacity="0.22" transform="rotate(168 73.6 47.0)"/><ellipse cx="73.2" cy="50.8" rx="1.5" ry="1.3" fill="#d8d8d8" opacity="0.35" transform="rotate(178 73.2 50.8)"/><ellipse cx="22.9" cy="87.5" rx="1.3" ry="1.2" fill="#d8d8d8" opacity="0.26" transform="rotate(88 22.9 87.5)"/><ellipse cx="19.0" cy="79.3" rx="2.1" ry="1.9" fill="#d8d8d8" opacity="0.64" transform="rotate(92 19.0 79.3)"/><ellipse cx="22.0" cy="87.3" rx="2.1" ry="1.6" fill="#d8d8d8" opacity="0.57" transform="rotate(97 22.0 87.3)"/><ellipse cx="82.5" cy="6.3" rx="1.4" ry="1.2" fill="#d8d8d8" opacity="0.42" transform="rotate(13 82.5 6.3)"/><ellipse cx="28.5" cy="76.6" rx="2.1" ry="1.9" fill="#d8d8d8" opacity="0.42" transform="rotate(139 28.5 76.6)"/><ellipse cx="19.0" cy="91.8" rx="2.1" ry="1.4" fill="#d8d8d8" opacity="0.20" transform="rotate(66 19.0 91.8)"/><ellipse cx="36.0" cy="91.3" rx="1.2" ry="0.8" fill="#d8d8d8" opacity="0.57" transform="rotate(70 36.0 91.3)"/><ellipse cx="52.1" cy="62.6" rx="2.3" ry="1.6" fill="#d8d8d8" opacity="0.58" transform="rotate(113 52.1 62.6)"/><ellipse cx="37.8" cy="72.5" rx="1.3" ry="1.2" fill="#d8d8d8" opacity="0.16" transform="rotate(78 37.8 72.5)"/><ellipse cx="72.5" cy="25.8" rx="1.4" ry="1.2" fill="#d8d8d8" opacity="0.24" transform="rotate(125 72.5 25.8)"/><ellipse cx="98.1" cy="5.5" rx="1.9" ry="1.5" fill="#d8d8d8" opacity="0.21" transform="rotate(23 98.1 5.5)"/><ellipse cx="10.7" cy="92.0" rx="1.3" ry="1.3" fill="#d8d8d8" opacity="0.51" transform="rotate(124 10.7 92.0)"/><ellipse cx="70.6" cy="28.3" rx="1.5" ry="1.1" fill="#d8d8d8" opacity="0.46" transform="rotate(26 70.6 28.3)"/><ellipse cx="70.7" cy="40.6" rx="1.6" ry="1.3" fill="#d8d8d8" opacity="0.32" transform="rotate(169 70.7 40.6)"/><ellipse cx="36.6" cy="67.0" rx="1.4" ry="1.1" fill="#d8d8d8" opacity="0.58" transform="rotate(51 36.6 67.0)"/><ellipse cx="84.6" cy="25.1" rx="1.6" ry="1.6" fill="#d8d8d8" opacity="0.51" transform="rotate(70 84.6 25.1)"/><ellipse cx="45.6" cy="54.6" rx="1.6" ry="1.0" fill="#d8d8d8" opacity="0.29" transform="rotate(75 45.6 54.6)"/><ellipse cx="71.2" cy="44.0" rx="1.9" ry="1.7" fill="#d8d8d8" opacity="0.35" transform="rotate(44 71.2 44.0)"/><ellipse cx="89.6" cy="-0.3" rx="2.2" ry="1.5" fill="#d8d8d8" opacity="0.32" transform="rotate(76 89.6 -0.3)"/><ellipse cx="32.9" cy="86.4" rx="1.8" ry="1.1" fill="#d8d8d8" opacity="0.19" transform="rotate(161 32.9 86.4)"/><ellipse cx="67.8" cy="26.7" rx="1.5" ry="1.4" fill="#d8d8d8" opacity="0.32" transform="rotate(120 67.8 26.7)"/><ellipse cx="20.8" cy="91.7" rx="1.9" ry="1.5" fill="#d8d8d8" opacity="0.38" transform="rotate(65 20.8 91.7)"/><ellipse cx="77.0" cy="24.9" rx="1.9" ry="1.6" fill="#d8d8d8" opacity="0.63" transform="rotate(175 77.0 24.9)"/><ellipse cx="0.2" cy="93.7" rx="1.9" ry="1.7" fill="#d8d8d8" opacity="0.18" transform="rotate(180 0.2 93.7)"/><ellipse cx="71.2" cy="48.1" rx="1.6" ry="1.4" fill="#d8d8d8" opacity="0.63" transform="rotate(39 71.2 48.1)"/><ellipse cx="83.5" cy="9.6" rx="1.6" ry="1.4" fill="#d8d8d8" opacity="0.23" transform="rotate(15 83.5 9.6)"/><ellipse cx="49.3" cy="66.6" rx="1.8" ry="1.7" fill="#d8d8d8" opacity="0.55" transform="rotate(46 49.3 66.6)"/><ellipse cx="39.0" cy="74.1" rx="1.7" ry="1.0" fill="#d8d8d8" opacity="0.61" transform="rotate(155 39.0 74.1)"/><ellipse cx="17.3" cy="88.6" rx="1.1" ry="0.8" fill="#d8d8d8" opacity="0.41" transform="rotate(96 17.3 88.6)"/><ellipse cx="93.4" cy="-1.3" rx="1.7" ry="1.1" fill="#d8d8d8" opacity="0.21" transform="rotate(102 93.4 -1.3)"/><circle cx="51.2" cy="29.4" r="1.1" fill="#ddd" opacity="0.36"/><circle cx="41.4" cy="5.4" r="0.8" fill="#ddd" opacity="0.45"/><circle cx="55.8" cy="45.9" r="1.2" fill="#ddd" opacity="0.30"/><circle cx="85.0" cy="15.5" r="1.3" fill="#ddd" opacity="0.49"/><circle cx="40.6" cy="61.2" r="1.2" fill="#ddd" opacity="0.68"/><circle cx="41.3" cy="1.1" r="0.7" fill="#ddd" opacity="0.62"/><circle cx="73.4" cy="71.3" r="0.7" fill="#ddd" opacity="0.49"/><circle cx="2.9" cy="11.0" r="0.8" fill="#ddd" opacity="0.68"/><circle cx="64.3" cy="84.8" r="0.6" fill="#ddd" opacity="0.44"/><circle cx="7.8" cy="26.1" r="0.7" fill="#ddd" opacity="0.66"/><circle cx="32.9" cy="48.9" r="1.1" fill="#ddd" opacity="0.65"/><circle cx="94.6" cy="56.8" r="1.0" fill="#ddd" opacity="0.66"/><circle cx="39.4" cy="29.9" r="1.1" fill="#ddd" opacity="0.37"/><circle cx="36.8" cy="42.9" r="0.9" fill="#ddd" opacity="0.41"/><circle cx="43.0" cy="45.1" r="0.6" fill="#ddd" opacity="0.63"/><circle cx="6.2" cy="52.8" r="1.0" fill="#ddd" opacity="0.43"/><circle cx="22.3" cy="9.9" r="0.9" fill="#ddd" opacity="0.39"/><circle cx="48.4" cy="23.0" r="1.1" fill="#ddd" opacity="0.47"/><circle cx="0.9" cy="40.7" r="1.3" fill="#ddd" opacity="0.25"/><circle cx="59.3" cy="96.1" r="0.9" fill="#ddd" opacity="0.52"/><circle cx="36.9" cy="30.1" r="1.0" fill="#ddd" opacity="0.52"/><circle cx="31.5" cy="49.8" r="1.0" fill="#ddd" opacity="0.59"/><circle cx="5.3" cy="9.3" r="0.8" fill="#ddd" opacity="0.37"/><circle cx="79.6" cy="42.6" r="1.2" fill="#ddd" opacity="0.43"/><circle cx="28.6" cy="68.0" r="0.7" fill="#ddd" opacity="0.69"/><circle cx="83.2" cy="32.8" r="0.8" fill="#ddd" opacity="0.62"/><circle cx="78.8" cy="64.2" r="0.6" fill="#ddd" opacity="0.59"/><circle cx="4.8" cy="62.5" r="1.0" fill="#ddd" opacity="0.67"/><circle cx="63.9" cy="2.2" r="1.3" fill="#ddd" opacity="0.59"/><circle cx="58.0" cy="0.6" r="1.1" fill="#ddd" opacity="0.44"/><circle cx="68.0" cy="98.4" r="1.2" fill="#ddd" opacity="0.28"/><circle cx="78.1" cy="44.1" r="1.1" fill="#ddd" opacity="0.42"/><circle cx="44.8" cy="43.7" r="0.7" fill="#ddd" opacity="0.39"/><circle cx="73.5" cy="7.1" r="0.7" fill="#ddd" opacity="0.63"/></g></svg>
<svg x="107.2" y="76.7" width="92.4" height="91.9" viewBox="0 0 100 100" preserveAspectRatio="none" overflow="hidden"><rect width="100" height="100" fill="#000"/><defs><linearGradient id="b2g" gradientUnits="userSpaceOnUse" x1="0" y1="0" x2="121" y2="70.3"><stop offset="0" stop-color="#080808" stop-opacity="1"/><stop offset="0.3" stop-color="#0c0c0c" stop-opacity="1"/><stop offset="0.42" stop-color="#111" stop-opacity="1"/><stop offset="0.54" stop-color="#151515" stop-opacity="1"/><stop offset="0.7" stop-color="#141414" stop-opacity="1"/><stop offset="1" stop-color="#101010" stop-opacity="1"/></linearGradient><linearGradient id="b2m" gradientUnits="userSpaceOnUse" x1="0" y1="0" x2="121" y2="70.3"><stop offset="0" stop-color="#1a1a1a" stop-opacity="1"/><stop offset="0.3" stop-color="#2a2a2a" stop-opacity="1"/><stop offset="0.42" stop-color="#ddd" stop-opacity="1"/><stop offset="0.6" stop-color="#ddd" stop-opacity="1"/><stop offset="0.72" stop-color="#444" stop-opacity="1"/><stop offset="1" stop-color="#262626" stop-opacity="1"/></linearGradient><mask id="b2mk" maskUnits="userSpaceOnUse" x="0" y="0" width="100" height="100"><rect width="100" height="100" fill="url(#b2m)"/></mask><filter id="b2s" x="0" y="0" width="100%" height="100%" color-interpolation-filters="sRGB"><feTurbulence type="fractalNoise" baseFrequency="0.3" numOctaves="2" seed="11"/><feColorMatrix type="matrix" values="0 0 0 0 1  0 0 0 0 1  0 0 0 0 1  5 0 0 0 -2.95"/></filter><filter id="b2n" x="0" y="0" width="100%" height="100%" color-interpolation-filters="sRGB"><feTurbulence type="fractalNoise" baseFrequency="0.6" numOctaves="1" seed="5"/><feColorMatrix type="matrix" values="0 0 0 0 1  0 0 0 0 1  0 0 0 0 1  3 0 0 0 -1.45"/></filter></defs><rect width="100" height="100" fill="url(#b2g)"/><path d="M86 -6Q60 50 16 106" stroke="#2c2c2c" stroke-width="26" fill="none" filter="url(#blur5)"/><rect width="100" height="100" filter="url(#b2n)" opacity="0.05"/><g filter="url(#blur07)"><rect width="100" height="100" filter="url(#b2s)" mask="url(#b2mk)" opacity="0.5"/></g><g filter="url(#blur05)"><circle cx="66.6" cy="54.8" r="0.7" fill="#ddd" opacity="0.46"/><circle cx="31.0" cy="95.4" r="0.9" fill="#ddd" opacity="0.86"/><circle cx="21.1" cy="41.5" r="0.9" fill="#ddd" opacity="0.82"/><circle cx="12.3" cy="87.4" r="0.9" fill="#ddd" opacity="0.42"/><circle cx="43.2" cy="37.8" r="1.0" fill="#ddd" opacity="0.86"/><circle cx="49.4" cy="69.0" r="0.8" fill="#ddd" opacity="0.79"/><circle cx="10.5" cy="74.2" r="0.7" fill="#ddd" opacity="0.69"/><circle cx="20.2" cy="34.6" r="0.7" fill="#ddd" opacity="0.57"/><circle cx="59.1" cy="52.0" r="0.8" fill="#ddd" opacity="0.69"/><circle cx="84.2" cy="35.8" r="1.0" fill="#ddd" opacity="0.64"/><circle cx="98.1" cy="32.8" r="1.0" fill="#ddd" opacity="0.52"/><circle cx="26.1" cy="73.0" r="0.9" fill="#ddd" opacity="0.53"/><circle cx="6.4" cy="82.5" r="0.8" fill="#ddd" opacity="0.76"/><circle cx="43.3" cy="61.8" r="0.9" fill="#ddd" opacity="0.89"/><circle cx="91.0" cy="45.6" r="0.9" fill="#ddd" opacity="0.52"/><circle cx="75.3" cy="10.2" r="0.8" fill="#ddd" opacity="0.82"/><circle cx="3.5" cy="69.8" r="0.9" fill="#ddd" opacity="0.68"/><circle cx="33.3" cy="15.2" r="1.2" fill="#ddd" opacity="0.78"/><circle cx="80.6" cy="9.8" r="1.1" fill="#ddd" opacity="0.51"/><circle cx="19.9" cy="53.5" r="1.0" fill="#ddd" opacity="0.46"/><circle cx="76.5" cy="58.2" r="1.1" fill="#ddd" opacity="0.86"/><circle cx="68.9" cy="36.4" r="1.2" fill="#ddd" opacity="0.76"/><circle cx="29.1" cy="85.8" r="1.0" fill="#ddd" opacity="0.53"/><circle cx="24.9" cy="2.0" r="0.9" fill="#ddd" opacity="0.53"/><circle cx="29.3" cy="25.3" r="0.7" fill="#ddd" opacity="0.64"/><circle cx="27.3" cy="28.5" r="0.8" fill="#ddd" opacity="0.65"/></g><path d="M79.4 96.0H96.3" stroke="#d4d4d4" stroke-width="1.7"/></svg>
<text x="6.8" y="178.3" font-size="7.7" text-anchor="start" fill="#262626" >Mitosox</text>
<text x="-0.3" y="190.9" font-size="13" text-anchor="start" fill="#000" font-weight="bold">c</text>
<circle cx="16.4" cy="194.5" r="3.1" fill="#D98D2A"/>
<text x="21.9" y="197.3" font-size="7.72" text-anchor="start" fill="#1a1a1a" ><tspan font-weight="bold" font-style="italic">APP/PS1</tspan> TAT@LNP</text>
<circle cx="110.1" cy="194.5" r="3.1" fill="#5A61C8"/>
<text x="115.4" y="197.3" font-size="7.72" text-anchor="start" fill="#1a1a1a" ><tspan font-weight="bold" font-style="italic">APP/PS1</tspan> TAT-Cx43@LNP</text>
<svg x="6.7" y="201" width="92.3" height="91.7" viewBox="0 0 100 100" preserveAspectRatio="none" overflow="hidden"><rect width="100" height="100" fill="#000"/><defs><radialGradient id="c1h" gradientUnits="userSpaceOnUse" cx="47" cy="46" r="32"><stop offset="0" stop-color="#e81818" stop-opacity="0.6"/><stop offset="0.35" stop-color="#d01010" stop-opacity="0.38"/><stop offset="0.65" stop-color="#a00808" stop-opacity="0.14"/><stop offset="1" stop-color="#600" stop-opacity="0"/></radialGradient><radialGradient id="c1c" gradientUnits="userSpaceOnUse" cx="47" cy="46" r="8"><stop offset="0" stop-color="#ececec" stop-opacity="0.95"/><stop offset="0.5" stop-color="#e0e0e0" stop-opacity="0.75"/><stop offset="1" stop-color="#dcc" stop-opacity="0"/></radialGradient><radialGradient id="c1m" gradientUnits="userSpaceOnUse" cx="47" cy="46" r="34"><stop offset="0" stop-color="#fff" stop-opacity="1"/><stop offset="0.45" stop-color="#ccc" stop-opacity="1"/><stop offset="0.75" stop-color="#444" stop-opacity="1"/><stop offset="1" stop-color="#000" stop-opacity="1"/></radialGradient><radialGradient id="c1w" gradientUnits="userSpaceOnUse" cx="47" cy="46" r="17"><stop offset="0" stop-color="#fff" stop-opacity="1"/><stop offset="0.5" stop-color="#ddd" stop-opacity="1"/><stop offset="0.8" stop-color="#666" stop-opacity="1"/><stop offset="1" stop-color="#000" stop-opacity="1"/></radialGradient><linearGradient id="c1bg" gradientUnits="userSpaceOnUse" x1="0" y1="0" x2="60" y2="100"><stop offset="0" stop-color="#444" stop-opacity="1"/><stop offset="0.5" stop-color="#aaa" stop-opacity="1"/><stop offset="1" stop-color="#fff" stop-opacity="1"/></linearGradient><mask id="c1mk" maskUnits="userSpaceOnUse" x="0" y="0" width="100" height="100"><rect width="100" height="100" fill="url(#c1m)"/></mask><mask id="c1wk" maskUnits="userSpaceOnUse" x="0" y="0" width="100" height="100"><rect width="100" height="100" fill="url(#c1w)"/></mask><mask id="c1bk" maskUnits="userSpaceOnUse" x="0" y="0" width="100" height="100"><rect width="100" height="100" fill="url(#c1bg)"/></mask><filter id="c1n" x="0" y="0" width="100%" height="100%" color-interpolation-filters="sRGB"><feTurbulence type="fractalNoise" baseFrequency="0.28" numOctaves="3" seed="3"/><feColorMatrix type="matrix" values="0 0 0 0 0.6  0 0 0 0 0.02  0 0 0 0 0.02  3.2 0 0 0 -1.45"/></filter><filter id="c1r" x="0" y="0" width="100%" height="100%" color-interpolation-filters="sRGB"><feTurbulence type="fractalNoise" baseFrequency="0.2" numOctaves="2" seed="4"/><feColorMatrix type="matrix" values="0 0 0 0 0.95  0 0 0 0 0.08  0 0 0 0 0.08  6 0 0 0 -3.05"/></filter><filter id="c1g" x="0" y="0" width="100%" height="100%" color-interpolation-filters="sRGB"><feTurbulence type="fractalNoise" baseFrequency="0.33" numOctaves="2" seed="5"/><feColorMatrix type="matrix" values="0 0 0 0 0.9  0 0 0 0 0.88  0 0 0 0 0.88  6 0 0 0 -2.65"/></filter><filter id="c1f" x="0" y="0" width="100%" height="100%" color-interpolation-filters="sRGB"><feTurbulence type="turbulence" baseFrequency="0.07" numOctaves="1" seed="6"/><feColorMatrix type="matrix" values="0 0 0 0 0.95  0 0 0 0 0.08  0 0 0 0 0.08  -14 0 0 0 1.0"/></filter><filter id="rough" x="-20%" y="-20%" width="140%" height="140%" color-interpolation-filters="sRGB"><feTurbulence type="fractalNoise" baseFrequency="0.35" numOctaves="2" seed="4" result="t"/><feDisplacementMap in="SourceGraphic" in2="t" scale="3.2" xChannelSelector="R" yChannelSelector="G"/><feGaussianBlur stdDeviation="0.55"/></filter></defs><g filter="url(#blur07)"><rect width="100" height="100" filter="url(#c1n)" mask="url(#c1bk)" opacity="0.4"/></g><rect width="100" height="100" fill="url(#c1h)"/><g filter="url(#blur05)"><rect width="100" height="100" filter="url(#c1f)" mask="url(#c1mk)" opacity="0.7"/><rect width="100" height="100" filter="url(#c1r)" mask="url(#c1mk)"/><rect width="100" height="100" filter="url(#c1g)" mask="url(#c1wk)"/></g><g filter="url(#blur07)"><rect width="100" height="100" fill="url(#c1c)"/></g><g filter="url(#rough)"><path d="M66 53C67.5 60 69 65 72.5 71" stroke="#f2f2f2" stroke-width="1.8" fill="none" stroke-linecap="round"/><path d="M86 7C90 7 95 9 100 11" stroke="#f4f4f4" stroke-width="2.2" fill="none"/><path d="M0 16L3 18" stroke="#eee" stroke-width="2.6" fill="none"/><circle cx="5" cy="98.5" r="1.8" fill="#eee"/><path d="M27 52L33 54.5" stroke="#ddd" stroke-width="1.4" fill="none"/><path d="M62 0L66 1" stroke="#ddd" stroke-width="1.4" fill="none"/></g><g filter="url(#blur05)" fill="#f01818"><circle cx="6" cy="42" r="1.5"/><circle cx="25" cy="27" r="1.1"/><circle cx="33" cy="29" r="1.1"/><circle cx="42" cy="10" r="1"/><circle cx="50" cy="92" r="1.3"/><circle cx="15" cy="95" r="1"/><circle cx="88" cy="14" r="0.9"/><circle cx="21" cy="40" r="0.9"/></g></svg>
<svg x="107.2" y="201" width="92.4" height="91.7" viewBox="0 0 100 100" preserveAspectRatio="none" overflow="hidden"><rect width="100" height="100" fill="#000"/><defs><radialGradient id="c2h" gradientUnits="userSpaceOnUse" cx="50" cy="54" r="30"><stop offset="0" stop-color="#e81818" stop-opacity="0.6"/><stop offset="0.35" stop-color="#d01010" stop-opacity="0.38"/><stop offset="0.65" stop-color="#a00808" stop-opacity="0.14"/><stop offset="1" stop-color="#600" stop-opacity="0"/></radialGradient><radialGradient id="c2c" gradientUnits="userSpaceOnUse" cx="50" cy="54" r="8"><stop offset="0" stop-color="#ececec" stop-opacity="0.95"/><stop offset="0.5" stop-color="#e0e0e0" stop-opacity="0.75"/><stop offset="1" stop-color="#dcc" stop-opacity="0"/></radialGradient><radialGradient id="c2m" gradientUnits="userSpaceOnUse" cx="50" cy="54" r="32"><stop offset="0" stop-color="#fff" stop-opacity="1"/><stop offset="0.45" stop-color="#ccc" stop-opacity="1"/><stop offset="0.75" stop-color="#444" stop-opacity="1"/><stop offset="1" stop-color="#000" stop-opacity="1"/></radialGradient><radialGradient id="c2w" gradientUnits="userSpaceOnUse" cx="50" cy="54" r="20"><stop offset="0" stop-color="#fff" stop-opacity="1"/><stop offset="0.5" stop-color="#ddd" stop-opacity="1"/><stop offset="0.8" stop-color="#666" stop-opacity="1"/><stop offset="1" stop-color="#000" stop-opacity="1"/></radialGradient><linearGradient id="c2bg" gradientUnits="userSpaceOnUse" x1="0" y1="0" x2="60" y2="100"><stop offset="0" stop-color="#444" stop-opacity="1"/><stop offset="0.5" stop-color="#aaa" stop-opacity="1"/><stop offset="1" stop-color="#fff" stop-opacity="1"/></linearGradient><mask id="c2mk" maskUnits="userSpaceOnUse" x="0" y="0" width="100" height="100"><rect width="100" height="100" fill="url(#c2m)"/></mask><mask id="c2wk" maskUnits="userSpaceOnUse" x="0" y="0" width="100" height="100"><rect width="100" height="100" fill="url(#c2w)"/></mask><mask id="c2bk" maskUnits="userSpaceOnUse" x="0" y="0" width="100" height="100"><rect width="100" height="100" fill="url(#c2bg)"/></mask><filter id="c2n" x="0" y="0" width="100%" height="100%" color-interpolation-filters="sRGB"><feTurbulence type="fractalNoise" baseFrequency="0.28" numOctaves="3" seed="13"/><feColorMatrix type="matrix" values="0 0 0 0 0.6  0 0 0 0 0.02  0 0 0 0 0.02  3.2 0 0 0 -1.45"/></filter><filter id="c2r" x="0" y="0" width="100%" height="100%" color-interpolation-filters="sRGB"><feTurbulence type="fractalNoise" baseFrequency="0.2" numOctaves="2" seed="14"/><feColorMatrix type="matrix" values="0 0 0 0 0.95  0 0 0 0 0.08  0 0 0 0 0.08  6 0 0 0 -3.05"/></filter><filter id="c2g" x="0" y="0" width="100%" height="100%" color-interpolation-filters="sRGB"><feTurbulence type="fractalNoise" baseFrequency="0.33" numOctaves="2" seed="15"/><feColorMatrix type="matrix" values="0 0 0 0 0.9  0 0 0 0 0.88  0 0 0 0 0.88  6 0 0 0 -2.65"/></filter><filter id="c2f" x="0" y="0" width="100%" height="100%" color-interpolation-filters="sRGB"><feTurbulence type="turbulence" baseFrequency="0.07" numOctaves="1" seed="16"/><feColorMatrix type="matrix" values="0 0 0 0 0.95  0 0 0 0 0.08  0 0 0 0 0.08  -14 0 0 0 1.0"/></filter><radialGradient id="c2r" gradientUnits="userSpaceOnUse" cx="50" cy="54" r="22"><stop offset="0" stop-color="#fff" stop-opacity="0"/><stop offset="0.5" stop-color="#fff" stop-opacity="0.15"/><stop offset="0.72" stop-color="#fff" stop-opacity="0.9"/><stop offset="0.9" stop-color="#fff" stop-opacity="0.35"/><stop offset="1" stop-color="#fff" stop-opacity="0"/></radialGradient><mask id="c2rk" maskUnits="userSpaceOnUse" x="0" y="0" width="100" height="100"><rect width="100" height="100" fill="url(#c2r)"/></mask><filter id="c2w" x="0" y="0" width="100%" height="100%" color-interpolation-filters="sRGB"><feTurbulence type="fractalNoise" baseFrequency="0.3" numOctaves="2" seed="5"/><feColorMatrix type="matrix" values="0 0 0 0 0.96  0 0 0 0 0.94  0 0 0 0 0.94  7 0 0 0 -3.2"/></filter></defs><g filter="url(#blur07)"><rect width="100" height="100" filter="url(#c2n)" mask="url(#c2bk)" opacity="0.8"/></g><rect width="100" height="100" fill="url(#c2h)"/><g filter="url(#blur05)"><rect width="100" height="100" filter="url(#c2f)" mask="url(#c2mk)" opacity="0.7"/><rect width="100" height="100" filter="url(#c2r)" mask="url(#c2mk)"/><rect width="100" height="100" filter="url(#c2g)" mask="url(#c2wk)"/></g><g filter="url(#blur07)"><rect width="100" height="100" fill="url(#c2c)"/></g><g filter="url(#blur05)"><rect width="100" height="100" filter="url(#c2w)" mask="url(#c2rk)"/></g><g filter="url(#rough)"><path d="M60 38C66 34 72 31 79 27" stroke="#f2f2f2" stroke-width="2.2" fill="none" stroke-linecap="round"/><path d="M5 35L6.5 44" stroke="#f2f2f2" stroke-width="2.6" fill="none" stroke-linecap="round"/><path d="M84 83L91 90" stroke="#f2f2f2" stroke-width="2.2" fill="none" stroke-linecap="round"/><circle cx="83" cy="50" r="1.2" fill="#ccc"/></g><g filter="url(#blur05)" fill="#f01818"><circle cx="58" cy="47" r="2.2"/><circle cx="52" cy="67" r="2"/><circle cx="36" cy="16" r="1.3"/><circle cx="30" cy="50" r="1.6"/><circle cx="60" cy="58" r="1.6"/></g><path d="M84.2 96.4H94.6" stroke="#d4d4d4" stroke-width="1.6"/></svg>
<text x="6.8" y="300.5" font-size="7.7" text-anchor="start" fill="#262626" ><tspan fill="#e04a45">RTN3</tspan> Aβ(6E10)</text>
<text x="0.45" y="319.1" font-size="13" text-anchor="start" fill="#000" font-weight="bold">d</text>
<circle cx="16.4" cy="321.4" r="3.1" fill="#D98D2A"/>
<text x="21.9" y="324.2" font-size="7.72" text-anchor="start" fill="#1a1a1a" ><tspan font-weight="bold" font-style="italic">APP/PS1</tspan> TAT@LNP</text>
<circle cx="110.1" cy="321.4" r="3.1" fill="#5A61C8"/>
<text x="115.4" y="324.2" font-size="7.72" text-anchor="start" fill="#1a1a1a" ><tspan font-weight="bold" font-style="italic">APP/PS1</tspan> TAT-Cx43@LNP</text>
<svg x="6.6" y="327.5" width="92.4" height="92.2" viewBox="0 0 100 100" preserveAspectRatio="none" overflow="hidden"><rect width="100" height="100" fill="#000"/><defs><radialGradient id="d1d" gradientUnits="userSpaceOnUse" cx="47" cy="51" r="37"><stop offset="0" stop-color="#000" stop-opacity="0.92"/><stop offset="0.5" stop-color="#060000" stop-opacity="0.8280000000000001"/><stop offset="0.75" stop-color="#0c0000" stop-opacity="0.41400000000000003"/><stop offset="1" stop-color="#000" stop-opacity="0"/></radialGradient><radialGradient id="d1r" gradientUnits="userSpaceOnUse" cx="47" cy="51" r="16.5"><stop offset="0" stop-color="#d41010" stop-opacity="1"/><stop offset="0.6" stop-color="#c00c0c" stop-opacity="0.95"/><stop offset="0.85" stop-color="#800" stop-opacity="0.5"/><stop offset="1" stop-color="#600" stop-opacity="0"/></radialGradient><radialGradient id="d1rm" gradientUnits="userSpaceOnUse" cx="47" cy="51" r="37"><stop offset="0" stop-color="#fff" stop-opacity="1"/><stop offset="0.7" stop-color="#aaa" stop-opacity="1"/><stop offset="1" stop-color="#000" stop-opacity="1"/></radialGradient><mask id="d1rmk" maskUnits="userSpaceOnUse" x="0" y="0" width="100" height="100"><rect width="100" height="100" fill="url(#d1rm)"/></mask><filter id="d1s" x="0" y="0" width="100%" height="100%" color-interpolation-filters="sRGB"><feTurbulence type="fractalNoise" baseFrequency="0.55" numOctaves="2" seed="21"/><feColorMatrix type="matrix" values="0 0 0 0 1  0 0 0 0 1  0 0 0 0 1  6 0 0 0 -2.9"/></filter><filter id="d1q" x="0" y="0" width="100%" height="100%" color-interpolation-filters="sRGB"><feTurbulence type="fractalNoise" baseFrequency="0.6" numOctaves="2" seed="28"/><feColorMatrix type="matrix" values="0 0 0 0 0  0 0 0 0 0  0 0 0 0 0  6 0 0 0 -3.1"/></filter><filter id="d1k" x="0" y="0" width="100%" height="100%" color-interpolation-filters="sRGB"><feTurbulence type="fractalNoise" baseFrequency="0.06" numOctaves="2" seed="24"/><feColorMatrix type="matrix" values="0 0 0 0 0  0 0 0 0 0  0 0 0 0 0  5 0 0 0 -2.6"/></filter><filter id="d1x" x="0" y="0" width="100%" height="100%" color-interpolation-filters="sRGB"><feTurbulence type="fractalNoise" baseFrequency="0.5" numOctaves="2" seed="26"/><feColorMatrix type="matrix" values="0 0 0 0 0.85  0 0 0 0 0.06  0 0 0 0 0.06  6 0 0 0 -3.2"/></filter><radialGradient id="d1p0" gradientUnits="userSpaceOnUse" cx="7" cy="30" r="14"><stop offset="0" stop-color="#c83030" stop-opacity="0.32"/><stop offset="0.4" stop-color="#c83030" stop-opacity="0.192"/><stop offset="0.7" stop-color="#c83030" stop-opacity="0.064"/><stop offset="1" stop-color="#c83030" stop-opacity="0"/></radialGradient><radialGradient id="d1p1" gradientUnits="userSpaceOnUse" cx="3" cy="90" r="12"><stop offset="0" stop-color="#000" stop-opacity="0.8"/><stop offset="0.4" stop-color="#000" stop-opacity="0.48"/><stop offset="0.7" stop-color="#000" stop-opacity="0.16000000000000003"/><stop offset="1" stop-color="#000" stop-opacity="0"/></radialGradient><radialGradient id="d1p2" gradientUnits="userSpaceOnUse" cx="12" cy="99" r="8"><stop offset="0" stop-color="#000" stop-opacity="0.8"/><stop offset="0.4" stop-color="#000" stop-opacity="0.48"/><stop offset="0.7" stop-color="#000" stop-opacity="0.16000000000000003"/><stop offset="1" stop-color="#000" stop-opacity="0"/></radialGradient><radialGradient id="d1p3" gradientUnits="userSpaceOnUse" cx="35" cy="38" r="14"><stop offset="0" stop-color="#000" stop-opacity="0.45"/><stop offset="0.4" stop-color="#000" stop-opacity="0.27"/><stop offset="0.7" stop-color="#000" stop-opacity="0.09000000000000001"/><stop offset="1" stop-color="#000" stop-opacity="0"/></radialGradient><filter id="d1w" x="0" y="0" width="100%" height="100%" color-interpolation-filters="sRGB"><feTurbulence type="fractalNoise" baseFrequency="0.07" numOctaves="2" seed="30" result="t"/><feDisplacementMap in="SourceGraphic" in2="t" scale="16" xChannelSelector="R" yChannelSelector="G"/></filter></defs><rect width="100" height="100" fill="#8e8686"/><g filter="url(#blur07)"><rect width="100" height="100" filter="url(#d1s)" opacity="0.55"/><rect width="100" height="100" filter="url(#d1q)" opacity="0.3"/></g><rect width="100" height="100" filter="url(#d1k)" opacity="0.25"/><g filter="url(#blur05)"><rect width="100" height="100" filter="url(#d1x)" opacity="0.3"/></g><rect width="100" height="100" fill="url(#d1p0)"/><rect width="100" height="100" fill="url(#d1p1)"/><rect width="100" height="100" fill="url(#d1p2)"/><rect width="100" height="100" fill="url(#d1p3)"/><g filter="url(#d1w)"><rect x="-10" y="-10" width="120" height="120" fill="url(#d1d)"/></g><rect width="100" height="100" filter="url(#d1x)" mask="url(#d1rmk)" opacity="0.8"/><g filter="url(#d1w)"><rect x="-10" y="-10" width="120" height="120" fill="url(#d1r)"/></g><rect width="100" height="100" filter="url(#d1q)" mask="url(#d1rmk)" opacity="0.35"/></svg>
<svg x="107.2" y="327.5" width="92.4" height="92.2" viewBox="0 0 100 100" preserveAspectRatio="none" overflow="hidden"><rect width="100" height="100" fill="#000"/><defs><radialGradient id="d2d" gradientUnits="userSpaceOnUse" cx="50" cy="54" r="25"><stop offset="0" stop-color="#000" stop-opacity="0.8"/><stop offset="0.5" stop-color="#060000" stop-opacity="0.7200000000000001"/><stop offset="0.75" stop-color="#0c0000" stop-opacity="0.36000000000000004"/><stop offset="1" stop-color="#000" stop-opacity="0"/></radialGradient><radialGradient id="d2r" gradientUnits="userSpaceOnUse" cx="50" cy="54" r="15.5"><stop offset="0" stop-color="#ff3030" stop-opacity="1"/><stop offset="0.6" stop-color="#f41c1c" stop-opacity="0.95"/><stop offset="0.85" stop-color="#c00" stop-opacity="0.5"/><stop offset="1" stop-color="#600" stop-opacity="0"/></radialGradient><radialGradient id="d2rm" gradientUnits="userSpaceOnUse" cx="50" cy="54" r="25"><stop offset="0" stop-color="#fff" stop-opacity="1"/><stop offset="0.7" stop-color="#aaa" stop-opacity="1"/><stop offset="1" stop-color="#000" stop-opacity="1"/></radialGradient><mask id="d2rmk" maskUnits="userSpaceOnUse" x="0" y="0" width="100" height="100"><rect width="100" height="100" fill="url(#d2rm)"/></mask><filter id="d2s" x="0" y="0" width="100%" height="100%" color-interpolation-filters="sRGB"><feTurbulence type="fractalNoise" baseFrequency="0.55" numOctaves="2" seed="33"/><feColorMatrix type="matrix" values="0 0 0 0 1  0 0 0 0 1  0 0 0 0 1  6 0 0 0 -2.8"/></filter><filter id="d2q" x="0" y="0" width="100%" height="100%" color-interpolation-filters="sRGB"><feTurbulence type="fractalNoise" baseFrequency="0.6" numOctaves="2" seed="40"/><feColorMatrix type="matrix" values="0 0 0 0 0  0 0 0 0 0  0 0 0 0 0  6 0 0 0 -3.1"/></filter><filter id="d2k" x="0" y="0" width="100%" height="100%" color-interpolation-filters="sRGB"><feTurbulence type="fractalNoise" baseFrequency="0.06" numOctaves="2" seed="36"/><feColorMatrix type="matrix" values="0 0 0 0 0  0 0 0 0 0  0 0 0 0 0  5 0 0 0 -2.6"/></filter><filter id="d2x" x="0" y="0" width="100%" height="100%" color-interpolation-filters="sRGB"><feTurbulence type="fractalNoise" baseFrequency="0.5" numOctaves="2" seed="38"/><feColorMatrix type="matrix" values="0 0 0 0 0.85  0 0 0 0 0.06  0 0 0 0 0.06  6 0 0 0 -3.2"/></filter><radialGradient id="d2p0" gradientUnits="userSpaceOnUse" cx="5" cy="38" r="15"><stop offset="0" stop-color="#d83030" stop-opacity="0.5"/><stop offset="0.4" stop-color="#d83030" stop-opacity="0.3"/><stop offset="0.7" stop-color="#d83030" stop-opacity="0.1"/><stop offset="1" stop-color="#d83030" stop-opacity="0"/></radialGradient><radialGradient id="d2p1" gradientUnits="userSpaceOnUse" cx="97" cy="62" r="11"><stop offset="0" stop-color="#000" stop-opacity="0.85"/><stop offset="0.4" stop-color="#000" stop-opacity="0.51"/><stop offset="0.7" stop-color="#000" stop-opacity="0.17"/><stop offset="1" stop-color="#000" stop-opacity="0"/></radialGradient><radialGradient id="d2p2" gradientUnits="userSpaceOnUse" cx="36" cy="32" r="11"><stop offset="0" stop-color="#000" stop-opacity="0.75"/><stop offset="0.4" stop-color="#000" stop-opacity="0.44999999999999996"/><stop offset="0.7" stop-color="#000" stop-opacity="0.15000000000000002"/><stop offset="1" stop-color="#000" stop-opacity="0"/></radialGradient><radialGradient id="d2p3" gradientUnits="userSpaceOnUse" cx="70" cy="36" r="12"><stop offset="0" stop-color="#000" stop-opacity="0.7"/><stop offset="0.4" stop-color="#000" stop-opacity="0.42"/><stop offset="0.7" stop-color="#000" stop-opacity="0.13999999999999999"/><stop offset="1" stop-color="#000" stop-opacity="0"/></radialGradient><radialGradient id="d2p4" gradientUnits="userSpaceOnUse" cx="30" cy="62" r="11"><stop offset="0" stop-color="#000" stop-opacity="0.8"/><stop offset="0.4" stop-color="#000" stop-opacity="0.48"/><stop offset="0.7" stop-color="#000" stop-opacity="0.16000000000000003"/><stop offset="1" stop-color="#000" stop-opacity="0"/></radialGradient><radialGradient id="d2p5" gradientUnits="userSpaceOnUse" cx="66" cy="60" r="10"><stop offset="0" stop-color="#000" stop-opacity="0.55"/><stop offset="0.4" stop-color="#000" stop-opacity="0.33"/><stop offset="0.7" stop-color="#000" stop-opacity="0.11000000000000001"/><stop offset="1" stop-color="#000" stop-opacity="0"/></radialGradient><radialGradient id="d2p6" gradientUnits="userSpaceOnUse" cx="2" cy="97" r="9"><stop offset="0" stop-color="#000" stop-opacity="0.8"/><stop offset="0.4" stop-color="#000" stop-opacity="0.48"/><stop offset="0.7" stop-color="#000" stop-opacity="0.16000000000000003"/><stop offset="1" stop-color="#000" stop-opacity="0"/></radialGradient><radialGradient id="d2p7" gradientUnits="userSpaceOnUse" cx="50" cy="30" r="10"><stop offset="0" stop-color="#000" stop-opacity="0.5"/><stop offset="0.4" stop-color="#000" stop-opacity="0.3"/><stop offset="0.7" stop-color="#000" stop-opacity="0.1"/><stop offset="1" stop-color="#000" stop-opacity="0"/></radialGradient><filter id="d2w" x="0" y="0" width="100%" height="100%" color-interpolation-filters="sRGB"><feTurbulence type="fractalNoise" baseFrequency="0.07" numOctaves="2" seed="42" result="t"/><feDisplacementMap in="SourceGraphic" in2="t" scale="16" xChannelSelector="R" yChannelSelector="G"/></filter></defs><rect width="100" height="100" fill="#a39b9b"/><g filter="url(#blur07)"><rect width="100" height="100" filter="url(#d2s)" opacity="0.65"/><rect width="100" height="100" filter="url(#d2q)" opacity="0.3"/></g><rect width="100" height="100" filter="url(#d2k)" opacity="0.5"/><g filter="url(#blur05)"><rect width="100" height="100" filter="url(#d2x)" opacity="0.3"/></g><rect width="100" height="100" fill="url(#d2p0)"/><rect width="100" height="100" fill="url(#d2p1)"/><rect width="100" height="100" fill="url(#d2p2)"/><rect width="100" height="100" fill="url(#d2p3)"/><rect width="100" height="100" fill="url(#d2p4)"/><rect width="100" height="100" fill="url(#d2p5)"/><rect width="100" height="100" fill="url(#d2p6)"/><rect width="100" height="100" fill="url(#d2p7)"/><g filter="url(#d2w)"><rect x="-10" y="-10" width="120" height="120" fill="url(#d2d)"/></g><rect width="100" height="100" filter="url(#d2x)" mask="url(#d2rmk)" opacity="0.8"/><g filter="url(#d2w)"><rect x="-10" y="-10" width="120" height="120" fill="url(#d2r)"/></g><rect width="100" height="100" filter="url(#d2q)" mask="url(#d2rmk)" opacity="0.35"/><circle cx="29" cy="66" r="2" fill="#f02020" filter="url(#blur05)"/><rect x="70.8" y="91.5" width="26.4" height="6.9" fill="#8a8a8a" opacity="0.8"/><path d="M73.3 95.0H94.7" stroke="#d4d4d4" stroke-width="1.5"/></svg>
<text x="6.8" y="427.6" font-size="7.7" text-anchor="start" fill="#262626" >Homer1 <tspan fill="#e04a45">Aβ plaque</tspan></text>
<text x="331.9" y="67.0" font-size="13" text-anchor="start" fill="#000" font-weight="bold">e</text>
<circle cx="344.5" cy="70.5" r="3.1" fill="#D98D2A"/>
<text x="350.2" y="73.3" font-size="7.72" text-anchor="start" fill="#1a1a1a" ><tspan font-weight="bold" font-style="italic">APP/PS1</tspan> TAT@LNP</text>
<circle cx="439.2" cy="70.4" r="3.1" fill="#5A61C8"/>
<text x="444.9" y="73.2" font-size="7.72" text-anchor="start" fill="#1a1a1a" ><tspan font-weight="bold" font-style="italic">APP/PS1</tspan> TAT-Cx43@LNP</text>
<svg x="335.8" y="77.0" width="92.7" height="91.7" viewBox="0 0 100 100" preserveAspectRatio="none" overflow="hidden"><rect width="100" height="100" fill="#000"/><defs><filter id="e1n" x="0" y="0" width="100%" height="100%" color-interpolation-filters="sRGB"><feTurbulence type="fractalNoise" baseFrequency="0.42" numOctaves="3" seed="17"/><feColorMatrix type="matrix" values="0 0 0 0 0.62  0 0 0 0 0.0  0 0 0 0 0.0  2.0 0 0 0 -0.78"/></filter><filter id="e1k" x="0" y="0" width="100%" height="100%" color-interpolation-filters="sRGB"><feTurbulence type="fractalNoise" baseFrequency="0.05" numOctaves="2" seed="3"/><feColorMatrix type="matrix" values="0 0 0 0 0  0 0 0 0 0  0 0 0 0 0  4 0 0 0 -2.1"/></filter><filter id="e1f" x="0" y="0" width="100%" height="100%" color-interpolation-filters="sRGB"><feTurbulence type="fractalNoise" baseFrequency="0.3" numOctaves="2" seed="44"/><feColorMatrix type="matrix" values="0 0 0 0 0.95  0 0 0 0 0.05  0 0 0 0 0.05  6 0 0 0 -3.6"/></filter></defs><rect width="100" height="100" fill="#1e0000"/><g filter="url(#blur07)"><rect width="100" height="100" filter="url(#e1n)"/><rect width="100" height="100" filter="url(#e1f)" opacity="0.5"/></g><rect width="100" height="100" filter="url(#e1k)" opacity="0.45"/><g filter="url(#blur05)"><circle cx="61" cy="31" r="2.6" fill="#ff3030" opacity="0.6"/><circle cx="61" cy="31" r="1.53" fill="#fff"/><circle cx="68" cy="44" r="3.4000000000000004" fill="#ff3030" opacity="0.6"/><circle cx="68" cy="44" r="2.21" fill="#fff"/><circle cx="70" cy="57" r="3.0" fill="#ff3030" opacity="0.6"/><circle cx="70" cy="57" r="1.87" fill="#fff"/><circle cx="24" cy="55" r="2.6" fill="#ff3030" opacity="0.6"/><circle cx="24" cy="55" r="1.53" fill="#fff"/><circle cx="83" cy="50" r="1.8" fill="#ff3030" opacity="0.6"/><circle cx="83" cy="50" r="0.85" fill="#fcc"/><circle cx="43" cy="86" r="1.8" fill="#ff3030" opacity="0.6"/><circle cx="43" cy="86" r="0.85" fill="#fcc"/><circle cx="47" cy="95" r="1.7000000000000002" fill="#ff3030" opacity="0.6"/><circle cx="47" cy="95" r="0.77" fill="#f99"/><circle cx="30" cy="17" r="1.7000000000000002" fill="#ff3030" opacity="0.6"/><circle cx="30" cy="17" r="0.77" fill="#f99"/><circle cx="4" cy="3" r="1.8" fill="#ff3030" opacity="0.6"/><circle cx="4" cy="3" r="0.85" fill="#fcc"/><circle cx="39" cy="8" r="1.5" fill="#ff3030" opacity="0.6"/><circle cx="39" cy="8" r="0.59" fill="#f55"/><circle cx="64" cy="21" r="1.7000000000000002" fill="#ff3030" opacity="0.6"/><circle cx="64" cy="21" r="0.77" fill="#f44"/></g></svg>
<svg x="435.9" y="77.0" width="93.1" height="91.7" viewBox="0 0 100 100" preserveAspectRatio="none" overflow="hidden"><rect width="100" height="100" fill="#000"/><defs><filter id="e2n" x="0" y="0" width="100%" height="100%" color-interpolation-filters="sRGB"><feTurbulence type="fractalNoise" baseFrequency="0.42" numOctaves="3" seed="29"/><feColorMatrix type="matrix" values="0 0 0 0 0.62  0 0 0 0 0.0  0 0 0 0 0.0  2.0 0 0 0 -0.75"/></filter><filter id="e2k" x="0" y="0" width="100%" height="100%" color-interpolation-filters="sRGB"><feTurbulence type="fractalNoise" baseFrequency="0.05" numOctaves="2" seed="31"/><feColorMatrix type="matrix" values="0 0 0 0 0  0 0 0 0 0  0 0 0 0 0  4 0 0 0 -2.1"/></filter><filter id="e2f" x="0" y="0" width="100%" height="100%" color-interpolation-filters="sRGB"><feTurbulence type="fractalNoise" baseFrequency="0.3" numOctaves="2" seed="54"/><feColorMatrix type="matrix" values="0 0 0 0 0.95  0 0 0 0 0.05  0 0 0 0 0.05  6 0 0 0 -3.6"/></filter></defs><rect width="100" height="100" fill="#200000"/><g filter="url(#blur07)"><rect width="100" height="100" filter="url(#e2n)"/><rect width="100" height="100" filter="url(#e2f)" opacity="0.5"/></g><rect width="100" height="100" filter="url(#e2k)" opacity="0.4"/><path d="M18 92C30 66 70 62 86 98" stroke="#100" stroke-width="5" fill="none" opacity="0.6" filter="url(#blur2)"/><g filter="url(#blur05)"><circle cx="29" cy="40" r="2.6" fill="#ff3030" opacity="0.6"/><circle cx="29" cy="40" r="1.53" fill="#fff"/><circle cx="76" cy="56" r="2.8" fill="#ff3030" opacity="0.6"/><circle cx="76" cy="56" r="1.70" fill="#fff"/><circle cx="76" cy="59" r="2.2" fill="#ff3030" opacity="0.6"/><circle cx="76" cy="59" r="1.19" fill="#fff"/><circle cx="62" cy="35" r="1.4" fill="#ff3030" opacity="0.6"/><circle cx="62" cy="35" r="0.51" fill="#f77"/></g><path d="M84.3 93.2H94.7" stroke="#d4d4d4" stroke-width="1.4"/></svg>
<text x="335.6" y="177.8" font-size="7.7" text-anchor="start" fill="#262626" ><tspan fill="#e04a45">IBA1</tspan> Aβ(Methoxy X04)</text>
<text x="331.2" y="187.7" font-size="13" text-anchor="start" fill="#000" font-weight="bold">g</text>
<circle cx="344.5" cy="194.2" r="3.1" fill="#D98D2A"/>
<text x="350.2" y="197.0" font-size="7.72" text-anchor="start" fill="#1a1a1a" ><tspan font-weight="bold" font-style="italic">APP/PS1</tspan> TAT@LNP</text>
<circle cx="439.2" cy="194.2" r="3.1" fill="#5A61C8"/>
<text x="444.9" y="197.0" font-size="7.72" text-anchor="start" fill="#1a1a1a" ><tspan font-weight="bold" font-style="italic">APP/PS1</tspan> TAT-Cx43@LNP</text>
<svg x="335.8" y="201" width="92.7" height="91.55" viewBox="0 0 100 100" preserveAspectRatio="none" overflow="hidden"><rect width="100" height="100" fill="#000"/><defs><filter id="g1f" x="0" y="0" width="100%" height="100%" color-interpolation-filters="sRGB"><feTurbulence type="turbulence" baseFrequency="0.17" numOctaves="1" seed="12" result="t"/><feColorMatrix in="t" type="matrix" values="0 0 0 0 0.95  0 0 0 0 0.05  0 0 0 0 0.05  -7 0 0 0 1.0" result="a"/><feTurbulence type="fractalNoise" baseFrequency="0.07" numOctaves="2" seed="62" result="n"/><feColorMatrix in="n" type="matrix" values="0 0 0 0 1  0 0 0 0 1  0 0 0 0 1  6 0 0 0 -2.95" result="m"/><feComposite in="a" in2="m" operator="in"/></filter><filter id="g1e" x="0" y="0" width="100%" height="100%" color-interpolation-filters="sRGB"><feTurbulence type="turbulence" baseFrequency="0.26" numOctaves="1" seed="77" result="t"/><feColorMatrix in="t" type="matrix" values="0 0 0 0 0.8  0 0 0 0 0.04  0 0 0 0 0.04  0 -8 0 0 1.0" result="a"/><feTurbulence type="fractalNoise" baseFrequency="0.09" numOctaves="2" seed="127" result="n"/><feColorMatrix in="n" type="matrix" values="0 0 0 0 1  0 0 0 0 1  0 0 0 0 1  6 0 0 0 -3.25" result="m"/><feComposite in="a" in2="m" operator="in"/></filter><filter id="g1t" x="0" y="0" width="100%" height="100%" color-interpolation-filters="sRGB"><feTurbulence type="turbulence" baseFrequency="0.24" numOctaves="1" seed="19" result="t"/><feColorMatrix in="t" type="matrix" values="0 0 0 0 1  0 0 0 0 0.1  0 0 0 0 0.1  0 0 -8 0 1.0" result="a"/><feTurbulence type="fractalNoise" baseFrequency="0.1" numOctaves="2" seed="69" result="n"/><feColorMatrix in="n" type="matrix" values="0 0 0 0 1  0 0 0 0 1  0 0 0 0 1  6 0 0 0 -2.7" result="m"/><feComposite in="a" in2="m" operator="in"/></filter><radialGradient id="g1m" gradientUnits="userSpaceOnUse" cx="52" cy="50" r="72"><stop offset="0" stop-color="#fff" stop-opacity="1"/><stop offset="0.45" stop-color="#eee" stop-opacity="1"/><stop offset="0.75" stop-color="#999" stop-opacity="1"/><stop offset="1" stop-color="#555" stop-opacity="1"/></radialGradient><mask id="g1mk" maskUnits="userSpaceOnUse" x="0" y="0" width="100" height="100"><rect width="100" height="100" fill="url(#g1m)"/></mask><radialGradient id="g1h" gradientUnits="userSpaceOnUse" cx="53" cy="47" r="27"><stop offset="0" stop-color="#888" stop-opacity="0.7"/><stop offset="0.6" stop-color="#666" stop-opacity="0.3"/><stop offset="1" stop-color="#555" stop-opacity="0"/></radialGradient><filter id="g1b" x="-20%" y="-20%" width="140%" height="140%" color-interpolation-filters="sRGB"><feTurbulence type="fractalNoise" baseFrequency="0.12" numOctaves="3" seed="4" result="t"/><feDisplacementMap in="SourceGraphic" in2="t" scale="13" xChannelSelector="R" yChannelSelector="G"/><feGaussianBlur stdDeviation="1.3"/></filter><filter id="g1b2" x="-20%" y="-20%" width="140%" height="140%" color-interpolation-filters="sRGB"><feTurbulence type="fractalNoise" baseFrequency="0.12" numOctaves="3" seed="9" result="t"/><feDisplacementMap in="SourceGraphic" in2="t" scale="4" xChannelSelector="R" yChannelSelector="G"/><feGaussianBlur stdDeviation="1.3"/></filter><radialGradient id="g1gm" gradientUnits="userSpaceOnUse" cx="53" cy="47" r="21"><stop offset="0" stop-color="#fff" stop-opacity="1"/><stop offset="0.5238095238095238" stop-color="#fff" stop-opacity="1"/><stop offset="0.8" stop-color="#777" stop-opacity="1"/><stop offset="1" stop-color="#000" stop-opacity="1"/></radialGradient><mask id="g1gmk" maskUnits="userSpaceOnUse" x="0" y="0" width="100" height="100"><rect width="100" height="100" fill="url(#g1gm)"/></mask><filter id="g1gs" x="0" y="0" width="100%" height="100%" color-interpolation-filters="sRGB"><feTurbulence type="fractalNoise" baseFrequency="0.22" numOctaves="3" seed="31"/><feColorMatrix type="matrix" values="0 0 0 0 0.78  0 0 0 0 0.78  0 0 0 0 0.78  6 0 0 0 -2.7"/></filter><radialGradient id="g1rm" gradientUnits="userSpaceOnUse" cx="53" cy="47" r="25"><stop offset="0" stop-color="#000" stop-opacity="1"/><stop offset="0.35" stop-color="#222" stop-opacity="1"/><stop offset="0.6" stop-color="#fff" stop-opacity="1"/><stop offset="0.85" stop-color="#fff" stop-opacity="1"/><stop offset="1" stop-color="#000" stop-opacity="1"/></radialGradient><mask id="g1rmk" maskUnits="userSpaceOnUse" x="0" y="0" width="100" height="100"><rect width="100" height="100" fill="url(#g1rm)"/></mask></defs><rect width="100" height="100" fill="#140000"/><g filter="url(#blur05)"><rect width="100" height="100" filter="url(#g1e)" opacity="0.85"/><rect width="100" height="100" filter="url(#g1f)" mask="url(#g1mk)"/></g><rect width="100" height="100" fill="url(#g1h)"/><ellipse cx="84" cy="66" rx="6" ry="3" fill="#666" opacity="0.6" filter="url(#blur2)"/><g filter="url(#blur07)"><rect width="100" height="100" filter="url(#g1gs)" mask="url(#g1gmk)"/></g><circle cx="53" cy="46.5" r="12" fill="#c6c6c6" filter="url(#g1b)"/><circle cx="79" cy="46" r="3.0" fill="#c6c6c6" filter="url(#g1b2)"/><g filter="url(#blur05)"><rect width="100" height="100" filter="url(#g1t)" mask="url(#g1rmk)" opacity="0.9"/></g><rect x="26.75" y="24.5" width="50.95" height="50.650000000000006" fill="none" stroke="#fff" stroke-width="0.9" stroke-dasharray="1.1 0.9"/></svg>
<svg x="435.9" y="201" width="93.1" height="91.55" viewBox="0 0 100 100" preserveAspectRatio="none" overflow="hidden"><rect width="100" height="100" fill="#000"/><defs><filter id="g2f" x="0" y="0" width="100%" height="100%" color-interpolation-filters="sRGB"><feTurbulence type="turbulence" baseFrequency="0.2" numOctaves="1" seed="23" result="t"/><feColorMatrix in="t" type="matrix" values="0 0 0 0 1  0 0 0 0 0.07  0 0 0 0 0.07  -7 0 0 0 1.1" result="a"/><feTurbulence type="fractalNoise" baseFrequency="0.07" numOctaves="2" seed="73" result="n"/><feColorMatrix in="n" type="matrix" values="0 0 0 0 1  0 0 0 0 1  0 0 0 0 1  6 0 0 0 -2.2" result="m"/><feComposite in="a" in2="m" operator="in"/></filter><filter id="g2e" x="0" y="0" width="100%" height="100%" color-interpolation-filters="sRGB"><feTurbulence type="turbulence" baseFrequency="0.3" numOctaves="1" seed="91" result="t"/><feColorMatrix in="t" type="matrix" values="0 0 0 0 0.9  0 0 0 0 0.05  0 0 0 0 0.05  0 -8 0 0 1.0" result="a"/><feTurbulence type="fractalNoise" baseFrequency="0.09" numOctaves="2" seed="141" result="n"/><feColorMatrix in="n" type="matrix" values="0 0 0 0 1  0 0 0 0 1  0 0 0 0 1  6 0 0 0 -2.5" result="m"/><feComposite in="a" in2="m" operator="in"/></filter><filter id="g2t" x="0" y="0" width="100%" height="100%" color-interpolation-filters="sRGB"><feTurbulence type="turbulence" baseFrequency="0.24" numOctaves="1" seed="29" result="t"/><feColorMatrix in="t" type="matrix" values="0 0 0 0 1  0 0 0 0 0.1  0 0 0 0 0.1  0 0 -8 0 1.05" result="a"/><feTurbulence type="fractalNoise" baseFrequency="0.1" numOctaves="2" seed="79" result="n"/><feColorMatrix in="n" type="matrix" values="0 0 0 0 1  0 0 0 0 1  0 0 0 0 1  6 0 0 0 -2.5" result="m"/><feComposite in="a" in2="m" operator="in"/></filter><filter id="g2u" x="0" y="0" width="100%" height="100%" color-interpolation-filters="sRGB"><feTurbulence type="turbulence" baseFrequency="0.13" numOctaves="1" seed="61" result="t"/><feColorMatrix in="t" type="matrix" values="0 0 0 0 1  0 0 0 0 0.08  0 0 0 0 0.08  -4.5 0 0 0 1.25" result="a"/><feTurbulence type="fractalNoise" baseFrequency="0.08" numOctaves="2" seed="111" result="n"/><feColorMatrix in="n" type="matrix" values="0 0 0 0 1  0 0 0 0 1  0 0 0 0 1  6 0 0 0 -2.3" result="m"/><feComposite in="a" in2="m" operator="in"/></filter><radialGradient id="g2um" gradientUnits="userSpaceOnUse" cx="50.6" cy="48.5" r="36"><stop offset="0" stop-color="#fff" stop-opacity="1"/><stop offset="0.6" stop-color="#fff" stop-opacity="1"/><stop offset="0.85" stop-color="#555" stop-opacity="1"/><stop offset="1" stop-color="#000" stop-opacity="1"/></radialGradient><mask id="g2umk" maskUnits="userSpaceOnUse" x="0" y="0" width="100" height="100"><rect width="100" height="100" fill="url(#g2um)"/></mask><radialGradient id="g2m" gradientUnits="userSpaceOnUse" cx="50.6" cy="48.5" r="62"><stop offset="0" stop-color="#fff" stop-opacity="1"/><stop offset="0.48" stop-color="#fff" stop-opacity="1"/><stop offset="0.62" stop-color="#888" stop-opacity="1"/><stop offset="0.8" stop-color="#555" stop-opacity="1"/><stop offset="1" stop-color="#383838" stop-opacity="1"/></radialGradient><mask id="g2mk" maskUnits="userSpaceOnUse" x="0" y="0" width="100" height="100"><rect width="100" height="100" fill="url(#g2m)"/></mask><radialGradient id="g2h" gradientUnits="userSpaceOnUse" cx="50.6" cy="48.5" r="32"><stop offset="0" stop-color="#f01010" stop-opacity="0.75"/><stop offset="0.6" stop-color="#d01010" stop-opacity="0.42"/><stop offset="1" stop-color="#a00" stop-opacity="0"/></radialGradient><radialGradient id="g2h2" gradientUnits="userSpaceOnUse" cx="50.6" cy="48.5" r="20"><stop offset="0" stop-color="#999" stop-opacity="0.7"/><stop offset="0.7" stop-color="#777" stop-opacity="0.3"/><stop offset="1" stop-color="#555" stop-opacity="0"/></radialGradient><filter id="g2b" x="-20%" y="-20%" width="140%" height="140%" color-interpolation-filters="sRGB"><feTurbulence type="fractalNoise" baseFrequency="0.12" numOctaves="3" seed="7" result="t"/><feDisplacementMap in="SourceGraphic" in2="t" scale="9" xChannelSelector="R" yChannelSelector="G"/><feGaussianBlur stdDeviation="1.3"/></filter><radialGradient id="g2gm" gradientUnits="userSpaceOnUse" cx="50.6" cy="48.5" r="17"><stop offset="0" stop-color="#fff" stop-opacity="1"/><stop offset="0.5882352941176471" stop-color="#fff" stop-opacity="1"/><stop offset="0.8" stop-color="#777" stop-opacity="1"/><stop offset="1" stop-color="#000" stop-opacity="1"/></radialGradient><mask id="g2gmk" maskUnits="userSpaceOnUse" x="0" y="0" width="100" height="100"><rect width="100" height="100" fill="url(#g2gm)"/></mask><filter id="g2gs" x="0" y="0" width="100%" height="100%" color-interpolation-filters="sRGB"><feTurbulence type="fractalNoise" baseFrequency="0.22" numOctaves="3" seed="37"/><feColorMatrix type="matrix" values="0 0 0 0 0.78  0 0 0 0 0.78  0 0 0 0 0.78  6 0 0 0 -2.7"/></filter><radialGradient id="g2rm" gradientUnits="userSpaceOnUse" cx="50.6" cy="48.5" r="21"><stop offset="0" stop-color="#000" stop-opacity="1"/><stop offset="0.35" stop-color="#222" stop-opacity="1"/><stop offset="0.6" stop-color="#fff" stop-opacity="1"/><stop offset="0.85" stop-color="#fff" stop-opacity="1"/><stop offset="1" stop-color="#000" stop-opacity="1"/></radialGradient><mask id="g2rmk" maskUnits="userSpaceOnUse" x="0" y="0" width="100" height="100"><rect width="100" height="100" fill="url(#g2rm)"/></mask></defs><rect width="100" height="100" fill="#120000"/><rect width="100" height="100" fill="url(#g2h)"/><g filter="url(#blur05)"><rect width="100" height="100" filter="url(#g2e)" mask="url(#g2mk)"/><rect width="100" height="100" filter="url(#g2f)" mask="url(#g2mk)"/><rect width="100" height="100" filter="url(#g2u)" mask="url(#g2umk)"/></g><rect width="100" height="100" fill="url(#g2h2)"/><g filter="url(#blur07)"><rect width="100" height="100" filter="url(#g2gs)" mask="url(#g2gmk)"/></g><circle cx="50.6" cy="48.5" r="12" fill="#c6c6c6" filter="url(#g2b)"/><g filter="url(#blur05)"><rect width="100" height="100" filter="url(#g2t)" mask="url(#g2rmk)"/></g><rect x="24.9" y="22.3" width="50.199999999999996" height="50.2" fill="none" stroke="#fff" stroke-width="0.9" stroke-dasharray="1.1 0.9"/><path d="M85 95.4H93" stroke="#d4d4d4" stroke-width="1.4"/></svg>
<text x="335.6" y="300.6" font-size="7.7" text-anchor="start" fill="#262626" ><tspan fill="#e04a45">IBA1</tspan> Aβ(Methoxy X04)</text>
<text x="333.7" y="317.0" font-size="13" text-anchor="start" fill="#000" font-weight="bold">j</text>
<circle cx="344.5" cy="321.5" r="3.1" fill="#D98D2A"/>
<text x="350.2" y="324.3" font-size="7.72" text-anchor="start" fill="#1a1a1a" ><tspan font-weight="bold" font-style="italic">APP/PS1</tspan> TAT@LNP</text>
<circle cx="439.2" cy="321.5" r="3.1" fill="#5A61C8"/>
<text x="444.9" y="324.3" font-size="7.72" text-anchor="start" fill="#1a1a1a" ><tspan font-weight="bold" font-style="italic">APP/PS1</tspan> TAT-Cx43@LNP</text>
<svg x="335.8" y="328.1" width="92.6" height="91.6" viewBox="0 0 100 100" preserveAspectRatio="none" overflow="hidden"><rect width="100" height="100" fill="#000"/><defs><filter id="j1f" x="0" y="0" width="100%" height="100%" color-interpolation-filters="sRGB"><feTurbulence type="turbulence" baseFrequency="0.22" numOctaves="1" seed="5" result="t"/><feColorMatrix in="t" type="matrix" values="0 0 0 0 0.29  0 0 0 0 0.46  0 0 0 0 0.68  -6 0 0 0 1.0" result="a"/><feTurbulence type="fractalNoise" baseFrequency="0.1" numOctaves="2" seed="55" result="n"/><feColorMatrix in="n" type="matrix" values="0 0 0 0 1  0 0 0 0 1  0 0 0 0 1  6 0 0 0 -2.3" result="m"/><feComposite in="a" in2="m" operator="in"/></filter><filter id="j1g" x="0" y="0" width="100%" height="100%" color-interpolation-filters="sRGB"><feTurbulence type="turbulence" baseFrequency="0.3" numOctaves="1" seed="25" result="t"/><feColorMatrix in="t" type="matrix" values="0 0 0 0 0.25  0 0 0 0 0.4  0 0 0 0 0.62  0 -7 0 0 1.0" result="a"/><feTurbulence type="fractalNoise" baseFrequency="0.1" numOctaves="2" seed="75" result="n"/><feColorMatrix in="n" type="matrix" values="0 0 0 0 1  0 0 0 0 1  0 0 0 0 1  6 0 0 0 -2.4" result="m"/><feComposite in="a" in2="m" operator="in"/></filter><filter id="j1p" x="0" y="0" width="100%" height="100%" color-interpolation-filters="sRGB"><feTurbulence type="turbulence" baseFrequency="0.19" numOctaves="1" seed="41" result="t"/><feColorMatrix in="t" type="matrix" values="0 0 0 0 0.7  0 0 0 0 0.2  0 0 0 0 0.64  -5 0 0 0 1.15" result="a"/><feTurbulence type="fractalNoise" baseFrequency="0.09" numOctaves="2" seed="91" result="n"/><feColorMatrix in="n" type="matrix" values="0 0 0 0 1  0 0 0 0 1  0 0 0 0 1  6 0 0 0 -2.3" result="m"/><feComposite in="a" in2="m" operator="in"/></filter><filter id="j1d" x="-30%" y="-30%" width="160%" height="160%" color-interpolation-filters="sRGB"><feTurbulence type="fractalNoise" baseFrequency="0.05" numOctaves="3" seed="3" result="t"/><feDisplacementMap in="SourceGraphic" in2="t" scale="22" xChannelSelector="R" yChannelSelector="G"/><feGaussianBlur stdDeviation="2.2"/></filter><filter id="j1e" x="-30%" y="-30%" width="160%" height="160%" color-interpolation-filters="sRGB"><feTurbulence type="fractalNoise" baseFrequency="0.05" numOctaves="3" seed="8" result="t"/><feDisplacementMap in="SourceGraphic" in2="t" scale="14" xChannelSelector="R" yChannelSelector="G"/><feGaussianBlur stdDeviation="2.0"/></filter><filter id="j1h" x="-30%" y="-30%" width="160%" height="160%" color-interpolation-filters="sRGB"><feTurbulence type="fractalNoise" baseFrequency="0.05" numOctaves="3" seed="5" result="t"/><feDisplacementMap in="SourceGraphic" in2="t" scale="8" xChannelSelector="R" yChannelSelector="G"/><feGaussianBlur stdDeviation="1.6"/></filter><mask id="j1mk" maskUnits="userSpaceOnUse" x="0" y="0" width="100" height="100"><circle cx="53" cy="51" r="42" fill="#fff" filter="url(#j1d)"/><circle cx="56" cy="49" r="9.5" fill="#000" filter="url(#j1h)"/></mask><mask id="j1nk" maskUnits="userSpaceOnUse" x="0" y="0" width="100" height="100"><circle cx="50" cy="52" r="26" fill="#fff" filter="url(#j1e)"/><circle cx="56" cy="49" r="10.5" fill="#000" filter="url(#j1h)"/></mask></defs><g mask="url(#j1mk)"><rect width="100" height="100" fill="#1e3a60" opacity="0.3"/><g filter="url(#blur05)"><rect width="100" height="100" filter="url(#j1g)"/><rect width="100" height="100" filter="url(#j1f)"/></g></g><g mask="url(#j1nk)"><rect width="100" height="100" fill="#5a1a58" opacity="0.38"/><g filter="url(#blur05)"><rect width="100" height="100" filter="url(#j1p)"/></g></g></svg>
<svg x="436.6" y="328.1" width="93.3" height="91.6" viewBox="0 0 100 100" preserveAspectRatio="none" overflow="hidden"><rect width="100" height="100" fill="#000"/><defs><filter id="j2f" x="0" y="0" width="100%" height="100%" color-interpolation-filters="sRGB"><feTurbulence type="turbulence" baseFrequency="0.22" numOctaves="1" seed="15" result="t"/><feColorMatrix in="t" type="matrix" values="0 0 0 0 0.29  0 0 0 0 0.46  0 0 0 0 0.68  -6 0 0 0 1.0" result="a"/><feTurbulence type="fractalNoise" baseFrequency="0.1" numOctaves="2" seed="65" result="n"/><feColorMatrix in="n" type="matrix" values="0 0 0 0 1  0 0 0 0 1  0 0 0 0 1  6 0 0 0 -2.3" result="m"/><feComposite in="a" in2="m" operator="in"/></filter><filter id="j2g" x="0" y="0" width="100%" height="100%" color-interpolation-filters="sRGB"><feTurbulence type="turbulence" baseFrequency="0.3" numOctaves="1" seed="35" result="t"/><feColorMatrix in="t" type="matrix" values="0 0 0 0 0.25  0 0 0 0 0.4  0 0 0 0 0.62  0 -7 0 0 1.0" result="a"/><feTurbulence type="fractalNoise" baseFrequency="0.1" numOctaves="2" seed="85" result="n"/><feColorMatrix in="n" type="matrix" values="0 0 0 0 1  0 0 0 0 1  0 0 0 0 1  6 0 0 0 -2.4" result="m"/><feComposite in="a" in2="m" operator="in"/></filter><filter id="j2p" x="0" y="0" width="100%" height="100%" color-interpolation-filters="sRGB"><feTurbulence type="turbulence" baseFrequency="0.2" numOctaves="1" seed="47" result="t"/><feColorMatrix in="t" type="matrix" values="0 0 0 0 0.72  0 0 0 0 0.22  0 0 0 0 0.66  -5 0 0 0 1.15" result="a"/><feTurbulence type="fractalNoise" baseFrequency="0.1" numOctaves="2" seed="97" result="n"/><feColorMatrix in="n" type="matrix" values="0 0 0 0 1  0 0 0 0 1  0 0 0 0 1  6 0 0 0 -2.1" result="m"/><feComposite in="a" in2="m" operator="in"/></filter><filter id="j2q" x="0" y="0" width="100%" height="100%" color-interpolation-filters="sRGB"><feTurbulence type="turbulence" baseFrequency="0.3" numOctaves="1" seed="67" result="t"/><feColorMatrix in="t" type="matrix" values="0 0 0 0 0.62  0 0 0 0 0.18  0 0 0 0 0.58  0 -7 0 0 1.0" result="a"/><feTurbulence type="fractalNoise" baseFrequency="0.1" numOctaves="2" seed="117" result="n"/><feColorMatrix in="n" type="matrix" values="0 0 0 0 1  0 0 0 0 1  0 0 0 0 1  6 0 0 0 -2.3" result="m"/><feComposite in="a" in2="m" operator="in"/></filter><filter id="j2d" x="-30%" y="-30%" width="160%" height="160%" color-interpolation-filters="sRGB"><feTurbulence type="fractalNoise" baseFrequency="0.05" numOctaves="3" seed="13" result="t"/><feDisplacementMap in="SourceGraphic" in2="t" scale="22" xChannelSelector="R" yChannelSelector="G"/><feGaussianBlur stdDeviation="2.2"/></filter><filter id="j2e" x="-30%" y="-30%" width="160%" height="160%" color-interpolation-filters="sRGB"><feTurbulence type="fractalNoise" baseFrequency="0.05" numOctaves="3" seed="18" result="t"/><feDisplacementMap in="SourceGraphic" in2="t" scale="16" xChannelSelector="R" yChannelSelector="G"/><feGaussianBlur stdDeviation="2.0"/></filter><mask id="j2mk" maskUnits="userSpaceOnUse" x="0" y="0" width="100" height="100"><circle cx="48" cy="52" r="39" fill="#fff" filter="url(#j2d)"/></mask><mask id="j2nk" maskUnits="userSpaceOnUse" x="0" y="0" width="100" height="100"><circle cx="52" cy="48" r="31" fill="#fff" filter="url(#j2e)"/></mask></defs><g mask="url(#j2mk)"><rect width="100" height="100" fill="#1e3a60" opacity="0.3"/><g filter="url(#blur05)"><rect width="100" height="100" filter="url(#j2g)"/><rect width="100" height="100" filter="url(#j2f)"/></g></g><g mask="url(#j2nk)"><rect width="100" height="100" fill="#50164e" opacity="0.42"/><g filter="url(#blur05)"><rect width="100" height="100" filter="url(#j2q)"/><rect width="100" height="100" filter="url(#j2p)"/></g></g><path d="M76.4 95.0H92.4" stroke="#d4d4d4" stroke-width="2.0"/></svg>
<text x="335.8" y="428" font-size="7.7" text-anchor="start" fill="#1a1a1a" ><tspan fill="#5b7fc7">Aβ</tspan> <tspan fill="#c02fb0">Aβ in Microglia</tspan></text>
<rect x="251.1" y="76.7" width="50.599999999999994" height="90.2" fill="none" stroke="#333" stroke-width="0.6"/>
<path d="M246.2 166.9H251.1" stroke="#333" stroke-width="0.6"/>
<text x="242.6" y="169.636" font-size="7.6" text-anchor="end" fill="#1a1a1a" >0.0</text>
<path d="M246.2 147.8H251.1" stroke="#333" stroke-width="0.6"/>
<text x="242.6" y="150.536" font-size="7.6" text-anchor="end" fill="#1a1a1a" >0.5</text>
<path d="M246.2 128.7H251.1" stroke="#333" stroke-width="0.6"/>
<text x="242.6" y="131.43599999999998" font-size="7.6" text-anchor="end" fill="#1a1a1a" >1.0</text>
<path d="M246.2 109.6H251.1" stroke="#333" stroke-width="0.6"/>
<text x="242.6" y="112.336" font-size="7.6" text-anchor="end" fill="#1a1a1a" >1.5</text>
<path d="M246.2 90.5H251.1" stroke="#333" stroke-width="0.6"/>
<text x="242.6" y="93.236" font-size="7.6" text-anchor="end" fill="#1a1a1a" >2.0</text>
<text x="225.6" y="124.5" font-size="7.6" text-anchor="middle" fill="#1a1a1a" transform="rotate(-90 225.6 124.5)" >Mitosox intensity</text>
<circle cx="258.6" cy="128.7" r="2.5" fill="#A3A3A8"/>
<circle cx="262.6" cy="128.7" r="2.5" fill="#A3A3A8"/>
<circle cx="260.6" cy="129.1" r="2.5" fill="#A3A3A8"/>
<circle cx="259.5" cy="128.3" r="2.5" fill="#A3A3A8"/>
<circle cx="261.6" cy="128.7" r="2.5" fill="#A3A3A8"/>
<circle cx="275.9" cy="102.0" r="2.5" fill="#D98D2A"/>
<circle cx="278.0" cy="116.5" r="2.5" fill="#D98D2A"/>
<circle cx="274.9" cy="118.0" r="2.5" fill="#D98D2A"/>
<circle cx="278.0" cy="121.4" r="2.5" fill="#D98D2A"/>
<circle cx="274.0" cy="125.3" r="2.5" fill="#D98D2A"/>
<circle cx="289.8" cy="125.5" r="2.5" fill="#5A61C8"/>
<circle cx="294.5" cy="125.5" r="2.5" fill="#5A61C8"/>
<circle cx="290.2" cy="128.3" r="2.5" fill="#5A61C8"/>
<circle cx="294.0" cy="128.7" r="2.5" fill="#5A61C8"/>
<circle cx="291.0" cy="130.8" r="2.5" fill="#5A61C8"/>
<circle cx="292.1" cy="134.4" r="2.5" fill="#5A61C8"/>
<path d="M255.8 128.7H265.4" stroke="#000" stroke-width="1.3" fill="none"/><path d="M260.6 128.2V129.2M260.6 128.2H260.6M260.6 129.2H260.6" stroke="#000" stroke-width="0.8" fill="none"/>
<path d="M271.3 116.9H281.3" stroke="#000" stroke-width="1.3" fill="none"/><path d="M276.3 112.6V121.2M273.9 112.6H278.7M273.9 121.2H278.7" stroke="#000" stroke-width="0.8" fill="none"/>
<path d="M287.3 128.3H297.1" stroke="#000" stroke-width="1.3" fill="none"/><path d="M292.2 126.6V130.0M289.8 126.6H294.6M289.8 130.0H294.6" stroke="#000" stroke-width="0.8" fill="none"/>
<path d="M260.6 119.7V91.9H276.3V96.5H292.4V122.3" fill="none" stroke="#555" stroke-width="0.5"/>
<text x="268.2" y="85.6" font-size="6.5" text-anchor="middle" fill="#1a1a1a" >0.019</text>
<text x="268.3" y="92.2" font-size="6.5" text-anchor="middle" fill="#1a1a1a" >*</text>
<text x="284.8" y="91.3" font-size="6.5" text-anchor="middle" fill="#1a1a1a" >0.033</text>
<text x="284.5" y="97.2" font-size="6.5" text-anchor="middle" fill="#1a1a1a" >*</text>
<rect x="233.9" y="200.6" width="77.29999999999998" height="76.4" fill="none" stroke="#333" stroke-width="0.6"/>
<path d="M230.4 277.0H233.9" stroke="#333" stroke-width="0.6"/>
<text x="228.9" y="279.736" font-size="7.6" text-anchor="end" fill="#1a1a1a" >0</text>
<path d="M230.4 251.53333333333333H233.9" stroke="#333" stroke-width="0.6"/>
<text x="228.9" y="254.26933333333332" font-size="7.6" text-anchor="end" fill="#1a1a1a" >5</text>
<path d="M230.4 226.06666666666666H233.9" stroke="#333" stroke-width="0.6"/>
<text x="228.9" y="228.80266666666665" font-size="7.6" text-anchor="end" fill="#1a1a1a" >10</text>
<path d="M230.4 200.6H233.9" stroke="#333" stroke-width="0.6"/>
<text x="228.9" y="203.33599999999998" font-size="7.6" text-anchor="end" fill="#1a1a1a" >15</text>
<path d="M233.9 277V280.5" stroke="#333" stroke-width="0.6"/>
<text x="233.9" y="286.8" font-size="7.6" text-anchor="middle" fill="#1a1a1a" >0</text>
<path d="M259.6666666666667 277V280.5" stroke="#333" stroke-width="0.6"/>
<text x="259.6666666666667" y="286.8" font-size="7.6" text-anchor="middle" fill="#1a1a1a" >20</text>
<path d="M285.43333333333334 277V280.5" stroke="#333" stroke-width="0.6"/>
<text x="285.43333333333334" y="286.8" font-size="7.6" text-anchor="middle" fill="#1a1a1a" >40</text>
<path d="M311.2 277V280.5" stroke="#333" stroke-width="0.6"/>
<text x="311.2" y="286.8" font-size="7.6" text-anchor="middle" fill="#1a1a1a" >60</text>
<text x="272" y="297.6" font-size="7.7" text-anchor="middle" fill="#1a1a1a" >Distance from plaque (um)</text>
<text x="216.8" y="237" font-size="7.6" text-anchor="middle" fill="#1a1a1a" transform="rotate(-90 216.8 237)" >RTN3 intersection #</text>
<polygon points="233.9,276.0 235.2,276.0 236.5,274.9 237.8,273.8 239.1,271.7 240.3,268.3 241.6,263.1 242.9,255.9 244.2,246.9 245.5,236.9 246.8,227.1 248.1,219.3 249.4,215.0 250.6,214.6 251.9,216.3 253.2,219.4 254.5,223.8 255.8,229.2 257.1,235.1 258.4,241.2 259.7,247.2 261.0,252.8 262.2,257.8 263.5,262.0 264.8,265.1 266.1,266.8 267.4,266.8 268.7,266.0 270.0,266.0 271.3,268.0 272.6,271.0 273.8,273.6 275.1,275.0 276.4,275.6 277.7,275.8 279.0,275.9 280.3,275.9 281.6,275.9 282.9,275.9 284.1,275.9 285.4,275.9 286.7,275.9 288.0,275.9 289.3,275.9 290.6,275.9 291.9,275.9 293.2,275.9 294.5,275.9 295.7,275.9 297.0,275.9 298.3,275.9 299.6,275.9 300.9,275.9 302.2,275.9 303.5,275.9 304.8,275.9 306.0,275.9 307.3,275.9 308.6,275.9 309.9,275.9 311.2,275.9 311.2,277.0 309.9,277.0 308.6,277.0 307.3,277.0 306.0,277.0 304.8,277.0 303.5,277.0 302.2,277.0 300.9,277.0 299.6,277.0 298.3,277.0 297.0,277.0 295.7,277.0 294.5,277.0 293.2,277.0 291.9,277.0 290.6,277.0 289.3,277.0 288.0,277.0 286.7,277.0 285.4,277.0 284.1,277.0 282.9,277.0 281.6,277.0 280.3,277.0 279.0,277.0 277.7,277.0 276.4,277.0 275.1,277.0 273.8,276.2 272.6,274.3 271.3,272.0 270.0,270.5 268.7,270.5 267.4,271.1 266.1,271.1 264.8,269.8 263.5,267.5 262.2,264.3 261.0,260.5 259.7,256.3 258.4,251.8 257.1,247.2 255.8,242.7 254.5,238.7 253.2,235.4 251.9,233.0 250.6,231.7 249.4,232.0 248.1,235.3 246.8,241.2 245.5,248.5 244.2,256.1 242.9,262.8 241.6,268.3 240.3,272.2 239.1,274.8 237.8,276.4 236.5,277.0 235.2,277.0 233.9,277.0" fill="#D98D2A" opacity="0.3"/>
<polygon points="233.9,276.0 235.2,276.0 236.5,274.8 237.8,273.6 239.1,271.5 240.3,268.1 241.6,263.2 242.9,256.9 244.2,249.7 245.5,242.6 246.8,236.8 248.1,233.5 249.4,233.3 250.6,235.1 251.9,238.5 253.2,243.1 254.5,248.3 255.8,253.7 257.1,258.7 258.4,262.9 259.7,265.7 261.0,267.1 262.2,268.5 263.5,270.7 264.8,273.2 266.1,274.8 267.4,275.5 268.7,275.7 270.0,275.9 271.3,275.9 272.6,275.9 273.8,275.9 275.1,275.9 276.4,275.9 277.7,275.9 279.0,275.9 280.3,275.9 281.6,275.9 282.9,275.9 284.1,275.9 285.4,275.9 286.7,275.9 288.0,275.9 289.3,275.9 290.6,275.9 291.9,275.9 293.2,275.9 294.5,275.9 295.7,275.9 297.0,275.9 298.3,275.9 299.6,275.9 300.9,275.9 302.2,275.9 303.5,275.9 304.8,275.9 306.0,275.9 307.3,275.9 308.6,275.9 309.9,275.9 311.2,275.9 311.2,277.0 309.9,277.0 308.6,277.0 307.3,277.0 306.0,277.0 304.8,277.0 303.5,277.0 302.2,277.0 300.9,277.0 299.6,277.0 298.3,277.0 297.0,277.0 295.7,277.0 294.5,277.0 293.2,277.0 291.9,277.0 290.6,277.0 289.3,277.0 288.0,277.0 286.7,277.0 285.4,277.0 284.1,277.0 282.9,277.0 281.6,277.0 280.3,277.0 279.0,277.0 277.7,277.0 276.4,277.0 275.1,277.0 273.8,277.0 272.6,277.0 271.3,277.0 270.0,277.0 268.7,277.0 267.4,277.0 266.1,277.0 264.8,276.0 263.5,274.3 262.2,272.7 261.0,271.7 259.7,270.7 258.4,268.7 257.1,265.8 255.8,262.2 254.5,258.4 253.2,254.7 251.9,251.4 250.6,249.0 249.4,247.7 248.1,247.9 246.8,250.2 245.5,254.3 244.2,259.4 242.9,264.5 241.6,268.9 240.3,272.4 239.1,274.8 237.8,276.3 236.5,277.0 235.2,277.0 233.9,277.0" fill="#5A61C8" opacity="0.3"/>
<polyline points="233.9,277.0 235.2,277.0 236.5,276.1 237.8,275.1 239.1,273.3 240.3,270.3 241.6,265.7 242.9,259.4 244.2,251.5 245.5,242.7 246.8,234.2 248.1,227.3 249.4,223.5 250.6,223.2 251.9,224.6 253.2,227.4 254.5,231.3 255.8,235.9 257.1,241.1 258.4,246.5 259.7,251.8 261.0,256.7 262.2,261.0 263.5,264.7 264.8,267.5 266.1,268.9 267.4,268.9 268.7,268.2 270.0,268.3 271.3,270.0 272.6,272.6 273.8,274.9 275.1,276.2 276.4,276.7 277.7,276.9 279.0,276.9 280.3,276.9 281.6,276.9 282.9,276.9 284.1,276.9 285.4,276.9 286.7,276.9 288.0,276.9 289.3,276.9 290.6,276.9 291.9,276.9 293.2,276.9 294.5,276.9 295.7,276.9 297.0,276.9 298.3,276.9 299.6,276.9 300.9,276.9 302.2,276.9 303.5,276.9 304.8,276.9 306.0,276.9 307.3,276.9 308.6,276.9 309.9,276.9 311.2,276.9" fill="none" stroke="#D98D2A" stroke-width="1.3" stroke-dasharray="1.3 0.8"/>
<polyline points="233.9,277.0 235.2,277.0 236.5,276.0 237.8,275.0 239.1,273.1 240.3,270.2 241.6,266.1 242.9,260.7 244.2,254.5 245.5,248.4 246.8,243.5 248.1,240.7 249.4,240.5 250.6,242.1 251.9,245.0 253.2,248.9 254.5,253.3 255.8,257.9 257.1,262.2 258.4,265.8 259.7,268.2 261.0,269.4 262.2,270.6 263.5,272.5 264.8,274.6 266.1,276.0 267.4,276.6 268.7,276.8 270.0,276.9 271.3,276.9 272.6,276.9 273.8,276.9 275.1,276.9 276.4,276.9 277.7,276.9 279.0,276.9 280.3,276.9 281.6,276.9 282.9,276.9 284.1,276.9 285.4,276.9 286.7,276.9 288.0,276.9 289.3,276.9 290.6,276.9 291.9,276.9 293.2,276.9 294.5,276.9 295.7,276.9 297.0,276.9 298.3,276.9 299.6,276.9 300.9,276.9 302.2,276.9 303.5,276.9 304.8,276.9 306.0,276.9 307.3,276.9 308.6,276.9 309.9,276.9 311.2,276.9" fill="none" stroke="#5A61C8" stroke-width="1.3" stroke-dasharray="1.3 0.8"/>
<path d="M268.7 277.0H278.3" stroke="#5A61C8" stroke-width="1.5"/><path d="M278.3 277.0H311.2" stroke="#D98D2A" stroke-width="1.6"/>
<text x="277.7" y="215.5" font-size="6.3" text-anchor="start" fill="#1a1a1a" >F=90.59</text>
<text x="277.7" y="221.8" font-size="6.3" text-anchor="start" fill="#1a1a1a" >p&lt;0.0001</text>
<text x="277.7" y="229.6" font-size="6.3" text-anchor="start" fill="#1a1a1a" >****</text>
<rect x="232.3" y="327.2" width="77.09999999999997" height="76.5" fill="none" stroke="#333" stroke-width="0.6"/>
<path d="M228.8 403.7H232.3" stroke="#333" stroke-width="0.6"/>
<text x="228.0" y="406.436" font-size="7.6" text-anchor="end" fill="#1a1a1a" >0.0</text>
<path d="M228.8 368.95H232.3" stroke="#333" stroke-width="0.6"/>
<text x="228.0" y="371.686" font-size="7.6" text-anchor="end" fill="#1a1a1a" >0.5</text>
<path d="M228.8 334.2H232.3" stroke="#333" stroke-width="0.6"/>
<text x="228.0" y="336.936" font-size="7.6" text-anchor="end" fill="#1a1a1a" >1.0</text>
<path d="M232.3 334.2H309.4" stroke="#222" stroke-width="0.5" stroke-dasharray="0.9 0.7"/>
<path d="M232.3 403.7V409.7" stroke="#333" stroke-width="0.6"/>
<text x="232.3" y="416.4" font-size="7.6" text-anchor="middle" fill="#1a1a1a" >0</text>
<path d="M258.0 403.7V409.7" stroke="#333" stroke-width="0.6"/>
<text x="258.0" y="416.4" font-size="7.6" text-anchor="middle" fill="#1a1a1a" >20</text>
<path d="M283.7 403.7V409.7" stroke="#333" stroke-width="0.6"/>
<text x="283.7" y="416.4" font-size="7.6" text-anchor="middle" fill="#1a1a1a" >40</text>
<path d="M309.4 403.7V409.7" stroke="#333" stroke-width="0.6"/>
<text x="309.4" y="416.4" font-size="7.6" text-anchor="middle" fill="#1a1a1a" >60</text>
<text x="270.6" y="424.4" font-size="7.7" text-anchor="middle" fill="#1a1a1a" >Distance from plaque (um)</text>
<text x="214" y="368.5" font-size="7.6" text-anchor="middle" fill="#1a1a1a" transform="rotate(-90 214 368.5)" >Homer1 intensity</text>
<polygon points="232.3,365.1 233.6,363.3 234.9,361.5 236.2,359.7 237.4,358.1 238.7,356.4 240.0,354.7 241.3,353.0 242.6,352.1 243.9,351.2 245.2,350.3 246.4,349.4 247.7,348.5 249.0,347.7 250.3,346.9 251.6,346.0 252.9,345.2 254.1,344.4 255.4,343.6 256.7,342.8 258.0,342.0 259.3,341.3 260.6,340.5 261.9,339.8 263.1,339.1 264.4,338.3 265.7,337.6 267.0,336.9 268.3,336.5 269.6,336.2 270.9,335.8 272.1,335.5 273.4,335.1 274.7,334.8 276.0,334.7 277.3,334.7 278.6,334.7 279.8,334.6 281.1,334.6 282.4,334.5 283.7,334.5 285.0,334.5 286.3,334.5 287.6,334.5 288.8,334.5 290.1,334.5 291.4,334.4 292.7,334.4 294.0,334.4 295.3,334.4 296.5,334.4 297.8,334.4 299.1,334.3 300.4,334.3 301.7,334.2 303.0,334.2 304.3,334.1 305.5,334.1 306.8,334.1 308.1,334.0 309.4,334.0 309.4,334.4 308.1,334.6 306.8,334.8 305.5,334.9 304.3,335.1 303.0,335.3 301.7,335.4 300.4,335.6 299.1,335.8 297.8,335.9 296.5,336.1 295.3,336.2 294.0,336.3 292.7,336.5 291.4,336.6 290.1,336.7 288.8,336.9 287.6,337.0 286.3,337.1 285.0,337.2 283.7,337.4 282.4,337.5 281.1,337.7 279.8,337.8 278.6,338.0 277.3,338.2 276.0,338.3 274.7,338.5 273.4,338.9 272.1,339.4 270.9,339.9 269.6,340.3 268.3,340.8 267.0,341.3 265.7,342.1 264.4,343.0 263.1,343.8 261.9,344.7 260.6,345.5 259.3,346.4 258.0,347.3 256.7,348.2 255.4,349.1 254.1,350.0 252.9,351.0 251.6,351.9 250.3,352.8 249.0,353.8 247.7,354.7 246.4,355.7 245.2,356.7 243.9,357.8 242.6,358.8 241.3,359.8 240.0,361.6 238.7,363.4 237.4,365.2 236.2,367.0 234.9,368.9 233.6,370.9 232.3,372.8" fill="#5A61C8" opacity="0.3"/>
<polygon points="232.3,376.2 233.6,374.9 234.9,373.6 236.2,372.2 237.4,370.7 238.7,369.2 240.0,367.7 241.3,366.2 242.6,365.1 243.9,363.9 245.2,362.8 246.4,361.7 247.7,360.6 249.0,359.5 250.3,358.1 251.6,356.6 252.9,355.2 254.1,353.7 255.4,352.3 256.7,350.9 258.0,349.4 259.3,348.3 260.6,347.1 261.9,346.0 263.1,344.9 264.4,343.7 265.7,342.6 267.0,341.4 268.3,341.0 269.6,340.6 270.9,340.2 272.1,339.8 273.4,339.4 274.7,338.9 276.0,338.6 277.3,338.3 278.6,338.0 279.8,337.7 281.1,337.4 282.4,337.1 283.7,336.8 285.0,336.7 286.3,336.5 287.6,336.4 288.8,336.2 290.1,336.1 291.4,335.9 292.7,335.7 294.0,335.6 295.3,335.4 296.5,335.3 297.8,335.1 299.1,335.0 300.4,334.9 301.7,334.8 303.0,334.6 304.3,334.5 305.5,334.4 306.8,334.3 308.1,334.1 309.4,334.0 309.4,334.4 308.1,334.6 306.8,334.8 305.5,335.1 304.3,335.3 303.0,335.5 301.7,335.7 300.4,336.0 299.1,336.2 297.8,336.4 296.5,336.6 295.3,336.9 294.0,337.1 292.7,337.4 291.4,337.7 290.1,337.9 288.8,338.2 287.6,338.4 286.3,338.7 285.0,338.9 283.7,339.2 282.4,339.6 281.1,340.0 279.8,340.4 278.6,340.8 277.3,341.2 276.0,341.6 274.7,342.0 273.4,342.5 272.1,343.0 270.9,343.5 269.6,344.0 268.3,344.5 267.0,345.0 265.7,346.3 264.4,347.5 263.1,348.8 261.9,350.0 260.6,351.2 259.3,352.5 258.0,353.7 256.7,355.3 255.4,356.8 254.1,358.3 252.9,359.9 251.6,361.4 250.3,363.0 249.0,364.5 247.7,365.7 246.4,366.9 245.2,368.1 243.9,369.3 242.6,370.5 241.3,371.7 240.0,373.3 238.7,375.0 237.4,376.6 236.2,378.2 234.9,379.6 233.6,381.1 232.3,382.5" fill="#D98D2A" opacity="0.3"/>
<polyline points="232.3,368.9 233.6,367.1 234.9,365.2 236.2,363.4 237.4,361.7 238.7,359.9 240.0,358.2 241.3,356.4 242.6,355.5 243.9,354.5 245.2,353.5 246.4,352.5 247.7,351.6 249.0,350.7 250.3,349.8 251.6,349.0 252.9,348.1 254.1,347.2 255.4,346.4 256.7,345.5 258.0,344.6 259.3,343.8 260.6,343.0 261.9,342.2 263.1,341.4 264.4,340.7 265.7,339.9 267.0,339.1 268.3,338.7 269.6,338.3 270.9,337.8 272.1,337.4 273.4,337.0 274.7,336.6 276.0,336.5 277.3,336.4 278.6,336.3 279.8,336.2 281.1,336.1 282.4,336.0 283.7,335.9 285.0,335.9 286.3,335.8 287.6,335.7 288.8,335.7 290.1,335.6 291.4,335.5 292.7,335.5 294.0,335.4 295.3,335.3 296.5,335.2 297.8,335.1 299.1,335.0 300.4,334.9 301.7,334.8 303.0,334.7 304.3,334.6 305.5,334.5 306.8,334.4 308.1,334.3 309.4,334.2" fill="none" stroke="#5A61C8" stroke-width="1.3" stroke-dasharray="1.3 0.8"/>
<polyline points="232.3,379.4 233.6,378.0 234.9,376.6 236.2,375.2 237.4,373.6 238.7,372.1 240.0,370.5 241.3,368.9 242.6,367.8 243.9,366.6 245.2,365.5 246.4,364.3 247.7,363.2 249.0,362.0 250.3,360.5 251.6,359.0 252.9,357.5 254.1,356.0 255.4,354.6 256.7,353.1 258.0,351.6 259.3,350.4 260.6,349.2 261.9,348.0 263.1,346.8 264.4,345.6 265.7,344.4 267.0,343.2 268.3,342.8 269.6,342.3 270.9,341.8 272.1,341.4 273.4,340.9 274.7,340.5 276.0,340.1 277.3,339.8 278.6,339.4 279.8,339.1 281.1,338.7 282.4,338.4 283.7,338.0 285.0,337.8 286.3,337.6 287.6,337.4 288.8,337.2 290.1,337.0 291.4,336.8 292.7,336.6 294.0,336.4 295.3,336.1 296.5,335.9 297.8,335.8 299.1,335.6 300.4,335.4 301.7,335.2 303.0,335.1 304.3,334.9 305.5,334.7 306.8,334.5 308.1,334.4 309.4,334.2" fill="none" stroke="#D98D2A" stroke-width="1.3" stroke-dasharray="1.3 0.8"/>
<text x="273.8" y="380.3" font-size="6.3" text-anchor="start" fill="#1a1a1a" >F=114.1</text>
<text x="273.8" y="386.6" font-size="6.3" text-anchor="start" fill="#1a1a1a" >p&lt;0.0001</text>
<text x="273.8" y="393.8" font-size="6.3" text-anchor="start" fill="#1a1a1a" >****</text>
<text x="542.7" y="66.6" font-size="13" text-anchor="start" fill="#000" font-weight="bold">f</text>
<rect x="590.9" y="65.7" width="36.700000000000045" height="76.89999999999999" fill="none" stroke="#333" stroke-width="0.6"/>
<path d="M584.6999999999999 142.6H590.9" stroke="#333" stroke-width="0.6"/>
<text x="581.4" y="145.33599999999998" font-size="7.6" text-anchor="end" fill="#1a1a1a" >0.00</text>
<path d="M584.6999999999999 127.22H590.9" stroke="#333" stroke-width="0.6"/>
<text x="581.4" y="129.956" font-size="7.6" text-anchor="end" fill="#1a1a1a" >0.01</text>
<path d="M584.6999999999999 111.84H590.9" stroke="#333" stroke-width="0.6"/>
<text x="581.4" y="114.57600000000001" font-size="7.6" text-anchor="end" fill="#1a1a1a" >0.02</text>
<path d="M584.6999999999999 96.46000000000001H590.9" stroke="#333" stroke-width="0.6"/>
<text x="581.4" y="99.19600000000001" font-size="7.6" text-anchor="end" fill="#1a1a1a" >0.03</text>
<path d="M584.6999999999999 81.08000000000001H590.9" stroke="#333" stroke-width="0.6"/>
<text x="581.4" y="83.81600000000002" font-size="7.6" text-anchor="end" fill="#1a1a1a" >0.04</text>
<path d="M584.6999999999999 65.7H590.9" stroke="#333" stroke-width="0.6"/>
<text x="581.4" y="68.436" font-size="7.6" text-anchor="end" fill="#1a1a1a" >0.05</text>
<text x="548.5" y="105" font-size="7.4" text-anchor="middle" fill="#1a1a1a" transform="rotate(-90 548.5 105)" >Aβ plaque #</text>
<text x="559.7" y="105" font-size="7.4" text-anchor="middle" fill="#1a1a1a" transform="rotate(-90 559.7 105)" >(10000 μm²)</text>
<circle cx="599.5" cy="82.3" r="2.3" fill="#D98D2A"/>
<circle cx="602.0" cy="81.8" r="2.3" fill="#D98D2A"/>
<circle cx="604.5" cy="82.3" r="2.3" fill="#D98D2A"/>
<circle cx="606.0" cy="82.6" r="2.3" fill="#D98D2A"/>
<circle cx="600.5" cy="106.9" r="2.3" fill="#D98D2A"/>
<circle cx="603.5" cy="105.7" r="2.3" fill="#D98D2A"/>
<circle cx="613.0" cy="106.9" r="2.3" fill="#5A61C8"/>
<circle cx="619.5" cy="106.9" r="2.3" fill="#5A61C8"/>
<circle cx="616.0" cy="112.6" r="2.3" fill="#5A61C8"/>
<circle cx="614.0" cy="116.5" r="2.3" fill="#5A61C8"/>
<circle cx="613.5" cy="119.5" r="2.3" fill="#5A61C8"/>
<circle cx="619.5" cy="119.2" r="2.3" fill="#5A61C8"/>
<path d="M596.0 91.8H609.0" stroke="#000" stroke-width="1.3" fill="none"/><path d="M602.5 85.7V98.0M599.3 85.7H605.7M599.3 98.0H605.7" stroke="#000" stroke-width="0.8" fill="none"/>
<path d="M610.0 112.6H623.0" stroke="#000" stroke-width="1.3" fill="none"/><path d="M616.5 110.0V115.2M613.3 110.0H619.7M613.3 115.2H619.7" stroke="#000" stroke-width="0.8" fill="none"/>
<text x="608.8" y="72" font-size="6.3" text-anchor="middle" fill="#1a1a1a" >0.014</text>
<text x="609" y="78.4" font-size="6.3" text-anchor="middle" fill="#1a1a1a" >*</text>
<text x="540.8" y="166.0" font-size="13" text-anchor="start" fill="#000" font-weight="bold">h</text>
<rect x="590.9" y="160" width="36.700000000000045" height="76.9" fill="none" stroke="#333" stroke-width="0.6"/>
<path d="M584.6999999999999 236.9H590.9" stroke="#333" stroke-width="0.6"/>
<text x="581.4" y="239.636" font-size="7.6" text-anchor="end" fill="#1a1a1a" >0</text>
<path d="M584.6999999999999 221.52H590.9" stroke="#333" stroke-width="0.6"/>
<text x="581.4" y="224.256" font-size="7.6" text-anchor="end" fill="#1a1a1a" >20</text>
<path d="M584.6999999999999 206.14H590.9" stroke="#333" stroke-width="0.6"/>
<text x="581.4" y="208.87599999999998" font-size="7.6" text-anchor="end" fill="#1a1a1a" >40</text>
<path d="M584.6999999999999 190.76H590.9" stroke="#333" stroke-width="0.6"/>
<text x="581.4" y="193.49599999999998" font-size="7.6" text-anchor="end" fill="#1a1a1a" >60</text>
<path d="M584.6999999999999 175.38H590.9" stroke="#333" stroke-width="0.6"/>
<text x="581.4" y="178.11599999999999" font-size="7.6" text-anchor="end" fill="#1a1a1a" >80</text>
<path d="M584.6999999999999 160.0H590.9" stroke="#333" stroke-width="0.6"/>
<text x="581.4" y="162.736" font-size="7.6" text-anchor="end" fill="#1a1a1a" >100</text>
<text x="561.8" y="198.5" font-size="7.6" text-anchor="middle" fill="#1a1a1a" transform="rotate(-90 561.8 198.5)" >Compact Aβ plaque %</text>
<circle cx="605.0" cy="190.0" r="2.3" fill="#D98D2A"/>
<circle cx="599.0" cy="193.1" r="2.3" fill="#D98D2A"/>
<circle cx="603.0" cy="196.9" r="2.3" fill="#D98D2A"/>
<circle cx="598.5" cy="200.8" r="2.3" fill="#D98D2A"/>
<circle cx="606.0" cy="201.5" r="2.3" fill="#D98D2A"/>
<circle cx="600.0" cy="203.1" r="2.3" fill="#D98D2A"/>
<circle cx="613.0" cy="172.3" r="2.3" fill="#5A61C8"/>
<circle cx="620.0" cy="173.8" r="2.3" fill="#5A61C8"/>
<circle cx="616.5" cy="176.1" r="2.3" fill="#5A61C8"/>
<circle cx="612.5" cy="181.5" r="2.3" fill="#5A61C8"/>
<circle cx="620.5" cy="183.1" r="2.3" fill="#5A61C8"/>
<circle cx="616.5" cy="190.8" r="2.3" fill="#5A61C8"/>
<path d="M596.0 196.9H609.0" stroke="#000" stroke-width="1.3" fill="none"/><path d="M602.5 194.6V199.2M599.3 194.6H605.7M599.3 199.2H605.7" stroke="#000" stroke-width="0.8" fill="none"/>
<path d="M610.0 180.0H623.0" stroke="#000" stroke-width="1.3" fill="none"/><path d="M616.5 176.9V183.1M613.3 176.9H619.7M613.3 183.1H619.7" stroke="#000" stroke-width="0.8" fill="none"/>
<text x="608.8" y="166.6" font-size="6.3" text-anchor="middle" fill="#1a1a1a" >0.003</text>
<text x="609" y="173.0" font-size="6.3" text-anchor="middle" fill="#1a1a1a" >**</text>
<text x="542.7" y="259.5" font-size="13" text-anchor="start" fill="#000" font-weight="bold">i</text>
<rect x="590.9" y="255" width="36.700000000000045" height="76.60000000000002" fill="none" stroke="#333" stroke-width="0.6"/>
<path d="M584.6999999999999 331.6H590.9" stroke="#333" stroke-width="0.6"/>
<text x="581.4" y="334.336" font-size="7.6" text-anchor="end" fill="#1a1a1a" >0</text>
<path d="M584.6999999999999 312.45000000000005H590.9" stroke="#333" stroke-width="0.6"/>
<text x="581.4" y="315.18600000000004" font-size="7.6" text-anchor="end" fill="#1a1a1a" >1</text>
<path d="M584.6999999999999 293.3H590.9" stroke="#333" stroke-width="0.6"/>
<text x="581.4" y="296.036" font-size="7.6" text-anchor="end" fill="#1a1a1a" >2</text>
<path d="M584.6999999999999 274.15H590.9" stroke="#333" stroke-width="0.6"/>
<text x="581.4" y="276.88599999999997" font-size="7.6" text-anchor="end" fill="#1a1a1a" >3</text>
<path d="M584.6999999999999 255.0H590.9" stroke="#333" stroke-width="0.6"/>
<text x="581.4" y="257.736" font-size="7.6" text-anchor="end" fill="#1a1a1a" >4</text>
<text x="560.9" y="293" font-size="7.4" text-anchor="middle" fill="#1a1a1a" transform="rotate(-90 560.9 293)" >Periplaque microglia #</text>
<text x="571.8" y="293" font-size="7.4" text-anchor="middle" fill="#1a1a1a" transform="rotate(-90 571.8 293)" >(100 μm perimeter)</text>
<circle cx="599.5" cy="299.4" r="2.3" fill="#D98D2A"/>
<circle cx="605.5" cy="301.0" r="2.3" fill="#D98D2A"/>
<circle cx="602.0" cy="302.9" r="2.3" fill="#D98D2A"/>
<circle cx="598.5" cy="305.2" r="2.3" fill="#D98D2A"/>
<circle cx="606.0" cy="306.1" r="2.3" fill="#D98D2A"/>
<circle cx="602.0" cy="310.5" r="2.3" fill="#D98D2A"/>
<circle cx="613.0" cy="282.8" r="2.3" fill="#5A61C8"/>
<circle cx="618.0" cy="287.6" r="2.3" fill="#5A61C8"/>
<circle cx="620.0" cy="295.2" r="2.3" fill="#5A61C8"/>
<circle cx="614.0" cy="296.7" r="2.3" fill="#5A61C8"/>
<circle cx="619.5" cy="298.1" r="2.3" fill="#5A61C8"/>
<circle cx="614.5" cy="301.0" r="2.3" fill="#5A61C8"/>
<path d="M596.0 303.8H609.0" stroke="#000" stroke-width="1.3" fill="none"/><path d="M602.5 301.9V305.7M599.3 301.9H605.7M599.3 305.7H605.7" stroke="#000" stroke-width="0.8" fill="none"/>
<path d="M610.0 292.9H623.0" stroke="#000" stroke-width="1.3" fill="none"/><path d="M616.5 290.0V295.8M613.3 290.0H619.7M613.3 295.8H619.7" stroke="#000" stroke-width="0.8" fill="none"/>
<text x="608.8" y="270.2" font-size="6.3" text-anchor="middle" fill="#1a1a1a" >0.030</text>
<text x="609" y="276.59999999999997" font-size="6.3" text-anchor="middle" fill="#1a1a1a" >*</text>
<text x="541.0" y="351.7" font-size="13" text-anchor="start" fill="#000" font-weight="bold">k</text>
<rect x="590.9" y="349.8" width="36.700000000000045" height="76.19999999999999" fill="none" stroke="#333" stroke-width="0.6"/>
<path d="M584.6999999999999 426.0H590.9" stroke="#333" stroke-width="0.6"/>
<text x="581.4" y="428.736" font-size="7.6" text-anchor="end" fill="#1a1a1a" >0</text>
<path d="M584.6999999999999 400.6H590.9" stroke="#333" stroke-width="0.6"/>
<text x="581.4" y="403.336" font-size="7.6" text-anchor="end" fill="#1a1a1a" >20</text>
<path d="M584.6999999999999 375.2H590.9" stroke="#333" stroke-width="0.6"/>
<text x="581.4" y="377.936" font-size="7.6" text-anchor="end" fill="#1a1a1a" >40</text>
<path d="M584.6999999999999 349.8H590.9" stroke="#333" stroke-width="0.6"/>
<text x="581.4" y="352.536" font-size="7.6" text-anchor="end" fill="#1a1a1a" >60</text>
<text x="559.0" y="387" font-size="7.4" text-anchor="middle" fill="#1a1a1a" transform="rotate(-90 559.0 387)" >Aβ within microglia</text>
<text x="569.5" y="387" font-size="7.4" text-anchor="middle" fill="#1a1a1a" transform="rotate(-90 569.5 387)" >domain (%)</text>
<circle cx="601.3" cy="385.4" r="2.3" fill="#D98D2A"/>
<circle cx="599.0" cy="387.9" r="2.3" fill="#D98D2A"/>
<circle cx="604.0" cy="388.5" r="2.3" fill="#D98D2A"/>
<circle cx="600.0" cy="390.4" r="2.3" fill="#D98D2A"/>
<circle cx="603.5" cy="391.7" r="2.3" fill="#D98D2A"/>
<circle cx="601.3" cy="396.2" r="2.3" fill="#D98D2A"/>
<circle cx="616.5" cy="370.1" r="2.3" fill="#5A61C8"/>
<circle cx="620.0" cy="375.8" r="2.3" fill="#5A61C8"/>
<circle cx="613.5" cy="379.0" r="2.3" fill="#5A61C8"/>
<circle cx="619.0" cy="381.6" r="2.3" fill="#5A61C8"/>
<circle cx="614.0" cy="386.6" r="2.3" fill="#5A61C8"/>
<circle cx="619.5" cy="386.6" r="2.3" fill="#5A61C8"/>
<path d="M596.0 389.6H609.0" stroke="#000" stroke-width="1.3" fill="none"/><path d="M602.5 388.4V390.7M599.3 388.4H605.7M599.3 390.7H605.7" stroke="#000" stroke-width="0.8" fill="none"/>
<path d="M610.0 379.6H623.0" stroke="#000" stroke-width="1.3" fill="none"/><path d="M616.5 377.1V382.2M613.3 377.1H619.7M613.3 382.2H619.7" stroke="#000" stroke-width="0.8" fill="none"/>
<text x="608.8" y="356.2" font-size="6.3" text-anchor="middle" fill="#1a1a1a" >0.024</text>
<text x="609" y="362.59999999999997" font-size="6.3" text-anchor="middle" fill="#1a1a1a" >*</text></svg>
</body></html>
